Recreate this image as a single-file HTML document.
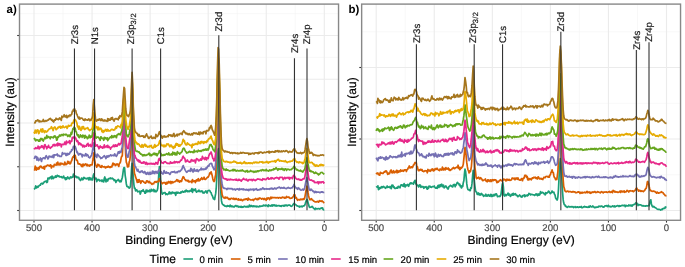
<!DOCTYPE html><html><head><meta charset="utf-8"><style>
html,body{margin:0;padding:0;background:#fff;}
body{width:685px;height:267px;overflow:hidden;}
svg{display:block;font-family:"Liberation Sans",sans-serif;filter:blur(0.3px);text-rendering:geometricPrecision;}
.gmin{stroke:#f2f2f2;stroke-width:0.55;}
.gmaj{stroke:#ebebeb;stroke-width:1.1;}
.tick{stroke:#333;stroke-width:1.1;}
.border{fill:none;stroke:#888;stroke-width:1.4;}
.tl{font-size:9.6px;fill:#4d4d4d;stroke:#4d4d4d;stroke-width:0.2px;text-anchor:middle;}
.vl{stroke:#333;stroke-width:1.1;}
.ann{font-size:9.6px;fill:#1a1a1a;stroke:#1a1a1a;stroke-width:0.2px;}
.sub{font-size:7.5px;letter-spacing:0.35px;}
.curves polyline{fill:none;stroke-width:1.7;stroke-linejoin:round;}
.key{stroke-width:1.6;}
.lt{font-size:12px;fill:#000;stroke:#000;stroke-width:0.2px;}
.ll{font-size:9.6px;fill:#000;stroke:#000;stroke-width:0.2px;}
.at{font-size:12px;fill:#000;stroke:#000;stroke-width:0.2px;}
.tag{font-size:11.5px;font-weight:bold;fill:#000;}
</style></head><body>
<svg width="685" height="267" viewBox="0 0 685 267">
<line x1="63.03" y1="4.1" x2="63.03" y2="220.3" class="gmin"/>
<line x1="121.09" y1="4.1" x2="121.09" y2="220.3" class="gmin"/>
<line x1="179.15" y1="4.1" x2="179.15" y2="220.3" class="gmin"/>
<line x1="237.21" y1="4.1" x2="237.21" y2="220.3" class="gmin"/>
<line x1="295.27" y1="4.1" x2="295.27" y2="220.3" class="gmin"/>
<line x1="19.5" y1="13.60" x2="338.6" y2="13.60" class="gmin"/>
<line x1="19.5" y1="57.40" x2="338.6" y2="57.40" class="gmin"/>
<line x1="19.5" y1="101.10" x2="338.6" y2="101.10" class="gmin"/>
<line x1="19.5" y1="144.90" x2="338.6" y2="144.90" class="gmin"/>
<line x1="19.5" y1="188.60" x2="338.6" y2="188.60" class="gmin"/>
<line x1="34.00" y1="4.1" x2="34.00" y2="220.3" class="gmaj"/>
<line x1="92.06" y1="4.1" x2="92.06" y2="220.3" class="gmaj"/>
<line x1="150.12" y1="4.1" x2="150.12" y2="220.3" class="gmaj"/>
<line x1="208.18" y1="4.1" x2="208.18" y2="220.3" class="gmaj"/>
<line x1="266.24" y1="4.1" x2="266.24" y2="220.3" class="gmaj"/>
<line x1="324.30" y1="4.1" x2="324.30" y2="220.3" class="gmaj"/>
<line x1="19.5" y1="35.50" x2="338.6" y2="35.50" class="gmaj"/>
<line x1="19.5" y1="79.25" x2="338.6" y2="79.25" class="gmaj"/>
<line x1="19.5" y1="123.00" x2="338.6" y2="123.00" class="gmaj"/>
<line x1="19.5" y1="166.75" x2="338.6" y2="166.75" class="gmaj"/>
<line x1="19.5" y1="210.50" x2="338.6" y2="210.50" class="gmaj"/>
<line x1="405.23" y1="4.1" x2="405.23" y2="220.3" class="gmin"/>
<line x1="463.29" y1="4.1" x2="463.29" y2="220.3" class="gmin"/>
<line x1="521.35" y1="4.1" x2="521.35" y2="220.3" class="gmin"/>
<line x1="579.41" y1="4.1" x2="579.41" y2="220.3" class="gmin"/>
<line x1="637.47" y1="4.1" x2="637.47" y2="220.3" class="gmin"/>
<line x1="361.6" y1="31.75" x2="680.5" y2="31.75" class="gmin"/>
<line x1="361.6" y1="103.25" x2="680.5" y2="103.25" class="gmin"/>
<line x1="361.6" y1="174.75" x2="680.5" y2="174.75" class="gmin"/>
<line x1="376.20" y1="4.1" x2="376.20" y2="220.3" class="gmaj"/>
<line x1="434.26" y1="4.1" x2="434.26" y2="220.3" class="gmaj"/>
<line x1="492.32" y1="4.1" x2="492.32" y2="220.3" class="gmaj"/>
<line x1="550.38" y1="4.1" x2="550.38" y2="220.3" class="gmaj"/>
<line x1="608.44" y1="4.1" x2="608.44" y2="220.3" class="gmaj"/>
<line x1="666.50" y1="4.1" x2="666.50" y2="220.3" class="gmaj"/>
<line x1="361.6" y1="67.50" x2="680.5" y2="67.50" class="gmaj"/>
<line x1="361.6" y1="139.00" x2="680.5" y2="139.00" class="gmaj"/>
<line x1="361.6" y1="210.50" x2="680.5" y2="210.50" class="gmaj"/>
<g class="curves">
<polyline points="34.0,189.3 34.6,188.8 35.2,187.5 35.7,185.9 36.3,188.0 36.9,187.5 37.5,186.5 38.1,187.2 38.6,186.3 39.2,185.6 39.8,185.1 40.4,185.2 41.0,183.5 41.5,183.5 42.1,183.1 42.7,184.1 43.3,183.3 43.9,182.5 44.5,181.5 45.0,181.6 45.6,181.5 46.2,181.0 46.8,182.5 47.4,182.1 47.9,178.1 48.5,178.1 49.1,178.8 49.7,177.5 50.3,177.2 50.8,176.9 51.4,178.8 52.0,176.1 52.6,176.8 53.2,178.7 53.7,177.4 54.3,177.7 54.9,177.1 55.5,176.0 56.1,177.3 56.6,176.8 57.2,175.3 57.8,175.7 58.4,176.4 59.0,176.0 59.5,176.9 60.1,177.0 60.7,176.9 61.3,176.6 61.9,177.7 62.4,177.8 63.0,177.1 63.6,176.1 64.2,178.0 64.8,177.8 65.4,179.6 65.9,177.8 66.5,179.3 67.1,178.1 67.7,176.9 68.3,177.8 68.8,178.5 69.4,178.9 70.0,177.5 70.6,176.9 71.2,177.8 71.7,177.1 72.3,177.4 72.9,177.0 73.5,174.0 74.1,175.7 74.6,177.1 75.2,176.3 75.8,176.1 76.4,177.5 77.0,176.9 77.5,177.7 78.1,177.3 78.7,177.3 79.3,179.3 79.9,179.3 80.4,180.5 81.0,179.9 81.6,178.1 82.2,178.3 82.8,179.8 83.4,179.0 83.9,177.3 84.5,177.8 85.1,178.3 85.7,178.3 86.3,178.9 86.8,178.5 87.4,178.1 88.0,178.1 88.6,179.8 89.2,177.5 89.7,179.7 90.3,179.7 90.9,178.0 91.5,179.8 92.1,179.3 92.6,179.9 93.2,175.8 93.8,173.9 94.4,176.9 95.0,178.9 95.5,178.6 96.1,178.2 96.7,181.6 97.3,180.2 97.9,179.5 98.4,179.9 99.0,179.6 99.6,180.9 100.2,180.6 100.8,180.7 101.3,180.2 101.9,181.4 102.5,180.2 103.1,181.6 103.7,181.9 104.3,178.4 104.8,177.0 105.4,179.7 106.0,181.9 106.6,179.3 107.2,179.6 107.7,181.0 108.3,179.0 108.9,178.6 109.5,178.3 110.1,178.7 110.6,177.9 111.2,178.7 111.8,178.5 112.4,178.1 113.0,179.1 113.5,179.2 114.1,180.5 114.7,179.9 115.3,180.2 115.9,182.5 116.4,181.0 117.0,180.5 117.6,180.4 118.2,179.4 118.8,180.0 119.3,181.4 119.9,181.9 120.5,180.6 121.1,181.7 121.7,179.5 122.3,177.5 122.8,174.3 123.4,169.5 124.0,167.5 124.6,168.0 125.2,175.7 125.7,178.7 126.3,183.7 126.9,186.4 127.5,186.6 128.1,186.6 128.6,187.5 129.2,188.1 129.8,187.6 130.4,186.5 131.0,179.4 131.5,169.6 132.1,163.3 132.7,168.0 133.3,177.8 133.9,184.5 134.4,188.1 135.0,188.2 135.6,190.8 136.2,190.0 136.8,189.8 137.3,191.2 137.9,191.8 138.5,191.4 139.1,191.5 139.7,191.1 140.2,194.1 140.8,192.6 141.4,190.8 142.0,190.8 142.6,191.1 143.2,189.7 143.7,191.3 144.3,191.5 144.9,193.2 145.5,193.1 146.1,190.2 146.6,191.9 147.2,190.2 147.8,191.7 148.4,191.0 149.0,191.4 149.5,190.1 150.1,191.8 150.7,191.5 151.3,189.3 151.9,190.9 152.4,190.4 153.0,190.6 153.6,189.4 154.2,191.7 154.8,190.1 155.3,191.0 155.9,191.9 156.5,191.1 157.1,190.7 157.7,188.5 158.2,183.7 158.8,174.0 159.4,166.6 160.0,169.8 160.6,180.4 161.2,189.1 161.7,192.5 162.3,194.2 162.9,193.4 163.5,193.2 164.1,192.6 164.6,192.8 165.2,192.7 165.8,194.6 166.4,193.8 167.0,194.0 167.5,194.5 168.1,194.1 168.7,193.2 169.3,191.9 169.9,193.8 170.4,193.7 171.0,192.3 171.6,193.7 172.2,192.4 172.8,192.1 173.3,193.0 173.9,192.8 174.5,193.4 175.1,192.5 175.7,195.3 176.2,193.4 176.8,192.2 177.4,193.2 178.0,192.2 178.6,192.9 179.2,192.8 179.7,193.2 180.3,193.1 180.9,192.0 181.5,192.7 182.1,191.6 182.6,191.2 183.2,191.9 183.8,192.2 184.4,191.5 185.0,190.9 185.5,191.8 186.1,190.0 186.7,190.6 187.3,191.7 187.9,190.9 188.4,191.6 189.0,191.1 189.6,191.5 190.2,190.4 190.8,190.7 191.3,191.0 191.9,188.6 192.5,192.4 193.1,189.5 193.7,189.4 194.2,190.5 194.8,189.9 195.4,189.0 196.0,191.4 196.6,192.1 197.1,191.3 197.7,191.2 198.3,191.4 198.9,190.1 199.5,191.3 200.1,191.7 200.6,191.4 201.2,190.9 201.8,191.6 202.4,191.1 203.0,192.9 203.5,192.7 204.1,193.1 204.7,192.0 205.3,191.6 205.9,190.9 206.4,192.3 207.0,193.1 207.6,191.3 208.2,190.5 208.8,190.4 209.3,190.3 209.9,190.8 210.5,192.2 211.1,192.6 211.7,194.9 212.2,195.3 212.8,197.1 213.4,198.8 214.0,198.5 214.6,199.5 215.1,196.7 215.7,193.4 216.3,187.0 216.9,175.2 217.5,159.1 218.1,149.1 218.6,148.6 219.2,158.2 219.8,170.2 220.4,184.1 221.0,194.7 221.5,200.9 222.1,203.6 222.7,204.3 223.3,204.9 223.9,205.5 224.4,205.4 225.0,206.1 225.6,206.3 226.2,206.1 226.8,206.5 227.3,205.6 227.9,206.2 228.5,205.9 229.1,206.1 229.7,206.7 230.2,205.1 230.8,206.3 231.4,205.9 232.0,206.8 232.6,206.1 233.1,206.6 233.7,206.9 234.3,206.8 234.9,206.2 235.5,205.5 236.0,205.6 236.6,206.4 237.2,206.4 237.8,206.0 238.4,207.0 239.0,206.7 239.5,206.9 240.1,206.5 240.7,207.2 241.3,206.5 241.9,207.3 242.4,206.8 243.0,207.1 243.6,207.0 244.2,206.2 244.8,206.5 245.3,206.5 245.9,207.0 246.5,206.9 247.1,206.2 247.7,206.9 248.2,206.7 248.8,206.9 249.4,205.0 250.0,205.6 250.6,206.5 251.1,205.5 251.7,205.6 252.3,206.4 252.9,206.6 253.5,205.9 254.0,206.3 254.6,206.0 255.2,206.7 255.8,206.1 256.4,206.8 257.0,206.2 257.5,206.6 258.1,206.5 258.7,206.9 259.3,206.6 259.9,205.9 260.4,206.3 261.0,206.3 261.6,206.0 262.2,206.1 262.8,206.0 263.3,205.1 263.9,205.6 264.5,205.6 265.1,205.1 265.7,205.9 266.2,205.1 266.8,205.6 267.4,205.7 268.0,206.6 268.6,204.9 269.1,205.6 269.7,205.8 270.3,205.7 270.9,206.2 271.5,205.4 272.0,204.9 272.6,206.0 273.2,205.0 273.8,205.4 274.4,205.0 274.9,205.9 275.5,205.8 276.1,205.2 276.7,206.1 277.3,205.8 277.9,205.7 278.4,205.7 279.0,205.5 279.6,206.0 280.2,206.1 280.8,205.9 281.3,206.4 281.9,205.5 282.5,205.7 283.1,205.7 283.7,206.1 284.2,205.2 284.8,206.0 285.4,205.2 286.0,205.2 286.6,205.2 287.1,205.9 287.7,205.6 288.3,205.0 288.9,205.0 289.5,205.2 290.0,205.1 290.6,206.0 291.2,206.3 291.8,206.2 292.4,205.7 292.9,204.8 293.5,204.0 294.1,203.5 294.7,204.1 295.3,204.4 295.9,204.8 296.4,205.6 297.0,205.8 297.6,205.9 298.2,206.2 298.8,206.4 299.3,207.0 299.9,206.1 300.5,206.6 301.1,206.7 301.7,206.1 302.2,206.8 302.8,206.4 303.4,205.8 304.0,205.9 304.6,205.3 305.1,204.1 305.7,202.4 306.3,200.5 306.9,199.5 307.5,200.1 308.0,202.9 308.6,204.5 309.2,206.7 309.8,207.5 310.4,207.3 310.9,207.1 311.5,206.9 312.1,206.3 312.7,207.0 313.3,207.9 313.8,208.6 314.4,208.6 315.0,209.5 315.6,208.2 316.2,208.6 316.8,209.0 317.3,208.8 317.9,208.7 318.5,208.5 319.1,208.8 319.7,209.1 320.2,208.5 320.8,208.2 321.4,207.9 322.0,208.5 322.6,207.9 323.1,209.5 323.7,209.9 324.3,209.7" stroke="#1B9E77"/>
<polyline points="34.0,169.6 34.6,169.9 35.2,166.1 35.7,167.1 36.3,170.1 36.9,167.9 37.5,168.8 38.1,169.3 38.6,167.6 39.2,168.8 39.8,166.7 40.4,166.2 41.0,166.8 41.5,166.5 42.1,168.0 42.7,167.8 43.3,168.3 43.9,166.6 44.5,169.1 45.0,166.4 45.6,166.2 46.2,166.5 46.8,165.7 47.4,165.0 47.9,165.2 48.5,165.7 49.1,165.5 49.7,166.0 50.3,164.8 50.8,165.0 51.4,168.0 52.0,166.0 52.6,166.3 53.2,166.2 53.7,166.8 54.3,164.4 54.9,165.0 55.5,165.0 56.1,165.1 56.6,163.0 57.2,164.9 57.8,162.1 58.4,164.7 59.0,164.8 59.5,164.8 60.1,163.1 60.7,164.8 61.3,163.3 61.9,163.3 62.4,163.9 63.0,164.0 63.6,164.6 64.2,164.8 64.8,162.1 65.4,163.5 65.9,164.7 66.5,164.0 67.1,163.9 67.7,161.4 68.3,163.3 68.8,161.5 69.4,163.4 70.0,163.9 70.6,163.4 71.2,161.2 71.7,160.7 72.3,158.3 72.9,156.9 73.5,157.1 74.1,155.4 74.6,155.5 75.2,155.3 75.8,158.2 76.4,160.2 77.0,160.0 77.5,161.1 78.1,163.9 78.7,163.6 79.3,164.1 79.9,163.9 80.4,164.7 81.0,165.2 81.6,166.4 82.2,164.4 82.8,166.6 83.4,164.2 83.9,164.5 84.5,165.4 85.1,164.4 85.7,163.8 86.3,164.5 86.8,165.6 87.4,164.4 88.0,165.8 88.6,165.6 89.2,165.1 89.7,166.1 90.3,164.9 90.9,164.9 91.5,164.9 92.1,164.8 92.6,161.8 93.2,158.5 93.8,152.8 94.4,158.8 95.0,161.9 95.5,164.6 96.1,165.6 96.7,167.1 97.3,165.8 97.9,164.2 98.4,165.7 99.0,165.0 99.6,165.3 100.2,167.1 100.8,167.0 101.3,167.4 101.9,165.6 102.5,166.5 103.1,166.9 103.7,166.8 104.3,166.9 104.8,166.6 105.4,167.9 106.0,167.1 106.6,167.4 107.2,166.6 107.7,167.0 108.3,166.1 108.9,167.0 109.5,167.4 110.1,166.7 110.6,167.4 111.2,166.7 111.8,166.9 112.4,164.8 113.0,163.1 113.5,164.8 114.1,164.4 114.7,163.9 115.3,165.5 115.9,165.0 116.4,164.7 117.0,163.8 117.6,164.5 118.2,165.0 118.8,166.4 119.3,163.7 119.9,163.2 120.5,161.9 121.1,158.3 121.7,156.3 122.3,156.0 122.8,145.1 123.4,135.7 124.0,125.7 124.6,131.3 125.2,143.3 125.7,154.6 126.3,162.2 126.9,163.6 127.5,166.9 128.1,166.7 128.6,166.7 129.2,161.9 129.8,160.5 130.4,155.3 131.0,143.8 131.5,124.6 132.1,114.3 132.7,124.4 133.3,148.6 133.9,165.7 134.4,173.2 135.0,174.8 135.6,177.2 136.2,178.6 136.8,180.7 137.3,182.4 137.9,179.8 138.5,182.2 139.1,179.6 139.7,181.7 140.2,180.9 140.8,183.3 141.4,181.8 142.0,180.8 142.6,181.0 143.2,181.2 143.7,182.2 144.3,182.3 144.9,182.9 145.5,183.2 146.1,182.2 146.6,180.8 147.2,180.8 147.8,181.5 148.4,182.6 149.0,181.4 149.5,181.5 150.1,183.0 150.7,182.8 151.3,183.3 151.9,184.4 152.4,183.7 153.0,183.6 153.6,183.8 154.2,182.5 154.8,181.7 155.3,181.5 155.9,182.3 156.5,182.2 157.1,181.3 157.7,181.6 158.2,181.7 158.8,181.7 159.4,178.7 160.0,180.2 160.6,180.9 161.2,182.5 161.7,182.7 162.3,183.7 162.9,183.1 163.5,182.5 164.1,182.5 164.6,182.9 165.2,182.6 165.8,184.1 166.4,183.9 167.0,182.2 167.5,183.5 168.1,182.1 168.7,181.5 169.3,182.8 169.9,182.6 170.4,181.5 171.0,183.6 171.6,181.8 172.2,181.6 172.8,182.8 173.3,182.4 173.9,182.1 174.5,181.8 175.1,181.6 175.7,181.1 176.2,180.9 176.8,179.6 177.4,180.0 178.0,181.4 178.6,180.5 179.2,181.7 179.7,182.2 180.3,180.9 180.9,180.9 181.5,181.5 182.1,179.2 182.6,178.1 183.2,176.7 183.8,177.1 184.4,178.6 185.0,179.6 185.5,179.8 186.1,180.7 186.7,180.6 187.3,180.3 187.9,181.3 188.4,180.4 189.0,182.0 189.6,181.5 190.2,181.6 190.8,181.5 191.3,181.2 191.9,182.7 192.5,179.5 193.1,180.8 193.7,181.5 194.2,181.2 194.8,180.8 195.4,182.6 196.0,180.4 196.6,179.9 197.1,181.0 197.7,179.5 198.3,178.7 198.9,181.0 199.5,180.6 200.1,180.2 200.6,178.9 201.2,178.9 201.8,177.7 202.4,179.5 203.0,178.8 203.5,178.9 204.1,177.2 204.7,179.2 205.3,179.5 205.9,179.0 206.4,178.5 207.0,177.8 207.6,177.2 208.2,177.1 208.8,175.8 209.3,174.5 209.9,172.8 210.5,173.5 211.1,171.8 211.7,174.1 212.2,175.6 212.8,178.7 213.4,180.8 214.0,181.5 214.6,180.7 215.1,177.3 215.7,174.6 216.3,161.3 216.9,138.9 217.5,111.0 218.1,91.5 218.6,93.4 219.2,108.2 219.8,131.8 220.4,157.0 221.0,178.0 221.5,189.4 222.1,194.5 222.7,196.3 223.3,197.4 223.9,197.9 224.4,197.3 225.0,198.3 225.6,197.1 226.2,197.6 226.8,197.9 227.3,197.4 227.9,198.1 228.5,199.2 229.1,199.3 229.7,198.7 230.2,199.4 230.8,198.6 231.4,198.3 232.0,198.6 232.6,198.6 233.1,199.0 233.7,198.2 234.3,199.4 234.9,198.8 235.5,199.3 236.0,198.4 236.6,199.1 237.2,199.5 237.8,199.8 238.4,198.8 239.0,200.0 239.5,199.7 240.1,199.4 240.7,200.1 241.3,199.5 241.9,200.0 242.4,200.7 243.0,200.3 243.6,199.6 244.2,199.4 244.8,199.6 245.3,199.4 245.9,198.8 246.5,198.9 247.1,199.5 247.7,200.2 248.2,198.1 248.8,199.5 249.4,199.1 250.0,199.6 250.6,199.9 251.1,200.0 251.7,199.9 252.3,199.7 252.9,199.4 253.5,200.5 254.0,199.5 254.6,199.1 255.2,199.0 255.8,198.5 256.4,199.2 257.0,199.7 257.5,199.6 258.1,198.3 258.7,199.3 259.3,198.4 259.9,197.9 260.4,198.2 261.0,198.5 261.6,199.2 262.2,198.8 262.8,198.4 263.3,198.8 263.9,199.6 264.5,198.5 265.1,199.1 265.7,199.1 266.2,200.3 266.8,198.1 267.4,199.0 268.0,197.8 268.6,198.1 269.1,198.3 269.7,199.6 270.3,197.8 270.9,197.2 271.5,198.4 272.0,197.4 272.6,197.6 273.2,197.7 273.8,197.7 274.4,197.5 274.9,197.6 275.5,197.7 276.1,198.0 276.7,197.6 277.3,197.6 277.9,197.6 278.4,198.2 279.0,197.7 279.6,197.7 280.2,197.6 280.8,198.1 281.3,197.5 281.9,197.8 282.5,197.1 283.1,197.3 283.7,197.7 284.2,197.3 284.8,198.2 285.4,197.4 286.0,197.9 286.6,196.5 287.1,196.9 287.7,197.3 288.3,197.5 288.9,197.0 289.5,197.9 290.0,198.3 290.6,198.3 291.2,198.0 291.8,198.1 292.4,197.4 292.9,197.1 293.5,196.2 294.1,194.5 294.7,194.5 295.3,196.6 295.9,198.2 296.4,197.7 297.0,199.4 297.6,200.3 298.2,199.6 298.8,199.5 299.3,199.6 299.9,200.0 300.5,199.1 301.1,199.1 301.7,199.6 302.2,199.1 302.8,199.5 303.4,198.6 304.0,199.4 304.6,198.4 305.1,195.8 305.7,192.5 306.3,189.2 306.9,186.1 307.5,188.2 308.0,192.2 308.6,196.0 309.2,198.0 309.8,199.6 310.4,199.6 310.9,199.0 311.5,198.7 312.1,200.0 312.7,200.1 313.3,200.7 313.8,201.2 314.4,201.3 315.0,201.8 315.6,201.9 316.2,201.7 316.8,201.8 317.3,201.6 317.9,201.3 318.5,202.2 319.1,201.2 319.7,200.7 320.2,201.2 320.8,201.1 321.4,201.4 322.0,200.8 322.6,201.6 323.1,201.8 323.7,202.5 324.3,203.1" stroke="#D95F02"/>
<polyline points="34.0,158.9 34.6,158.0 35.2,156.3 35.7,156.6 36.3,156.7 36.9,160.1 37.5,157.3 38.1,158.8 38.6,160.6 39.2,159.7 39.8,159.7 40.4,158.0 41.0,159.3 41.5,161.5 42.1,158.6 42.7,158.7 43.3,157.8 43.9,157.9 44.5,158.0 45.0,158.8 45.6,156.6 46.2,155.7 46.8,156.8 47.4,157.4 47.9,158.9 48.5,158.1 49.1,156.1 49.7,156.4 50.3,156.9 50.8,156.6 51.4,156.4 52.0,157.4 52.6,156.5 53.2,155.1 53.7,157.7 54.3,154.8 54.9,155.2 55.5,155.0 56.1,154.8 56.6,154.9 57.2,154.0 57.8,155.9 58.4,155.4 59.0,155.3 59.5,156.3 60.1,156.3 60.7,156.3 61.3,156.4 61.9,154.7 62.4,152.6 63.0,154.0 63.6,153.6 64.2,153.6 64.8,153.4 65.4,153.6 65.9,155.3 66.5,155.4 67.1,153.4 67.7,154.9 68.3,154.2 68.8,153.6 69.4,154.0 70.0,152.6 70.6,151.5 71.2,151.6 71.7,149.5 72.3,150.0 72.9,148.8 73.5,146.3 74.1,146.5 74.6,146.3 75.2,146.4 75.8,148.2 76.4,150.6 77.0,152.6 77.5,152.2 78.1,154.0 78.7,155.0 79.3,154.1 79.9,153.5 80.4,153.8 81.0,154.5 81.6,154.1 82.2,156.9 82.8,154.6 83.4,155.5 83.9,155.5 84.5,155.9 85.1,154.8 85.7,153.7 86.3,156.0 86.8,154.4 87.4,154.7 88.0,155.3 88.6,157.2 89.2,157.4 89.7,157.9 90.3,157.2 90.9,156.1 91.5,155.4 92.1,153.3 92.6,150.1 93.2,147.1 93.8,142.8 94.4,150.0 95.0,154.3 95.5,156.3 96.1,155.3 96.7,157.5 97.3,154.0 97.9,154.7 98.4,155.6 99.0,155.9 99.6,157.0 100.2,157.1 100.8,158.5 101.3,157.8 101.9,158.1 102.5,157.5 103.1,156.9 103.7,156.3 104.3,155.6 104.8,156.5 105.4,157.3 106.0,158.5 106.6,156.1 107.2,156.0 107.7,157.1 108.3,155.7 108.9,156.6 109.5,155.7 110.1,155.5 110.6,154.8 111.2,155.9 111.8,155.4 112.4,155.5 113.0,155.2 113.5,155.7 114.1,155.6 114.7,153.9 115.3,155.2 115.9,155.8 116.4,156.3 117.0,155.4 117.6,153.9 118.2,151.9 118.8,151.9 119.3,153.1 119.9,151.3 120.5,152.4 121.1,152.1 121.7,149.1 122.3,147.2 122.8,139.1 123.4,129.1 124.0,118.6 124.6,122.4 125.2,136.2 125.7,145.6 126.3,152.4 126.9,155.9 127.5,157.2 128.1,157.2 128.6,154.5 129.2,151.4 129.8,150.0 130.4,144.7 131.0,134.0 131.5,118.3 132.1,104.5 132.7,115.7 133.3,137.9 133.9,154.2 134.4,162.9 135.0,166.4 135.6,166.8 136.2,168.3 136.8,169.6 137.3,171.0 137.9,169.3 138.5,171.3 139.1,171.8 139.7,172.4 140.2,172.3 140.8,171.3 141.4,171.6 142.0,170.8 142.6,172.2 143.2,172.4 143.7,172.8 144.3,171.7 144.9,171.7 145.5,173.8 146.1,173.0 146.6,174.3 147.2,173.6 147.8,172.3 148.4,174.1 149.0,174.4 149.5,173.2 150.1,172.2 150.7,174.2 151.3,173.6 151.9,173.5 152.4,171.2 153.0,173.5 153.6,171.3 154.2,172.5 154.8,173.7 155.3,171.7 155.9,171.4 156.5,172.1 157.1,173.3 157.7,173.0 158.2,170.9 158.8,171.0 159.4,169.5 160.0,169.8 160.6,171.5 161.2,171.8 161.7,173.2 162.3,173.2 162.9,174.1 163.5,172.6 164.1,170.5 164.6,171.8 165.2,173.2 165.8,173.1 166.4,171.9 167.0,173.2 167.5,172.8 168.1,172.8 168.7,172.9 169.3,173.8 169.9,174.4 170.4,173.8 171.0,172.2 171.6,172.0 172.2,171.8 172.8,172.2 173.3,171.9 173.9,171.9 174.5,171.4 175.1,172.7 175.7,172.6 176.2,172.7 176.8,172.0 177.4,172.5 178.0,171.5 178.6,171.2 179.2,171.1 179.7,171.7 180.3,171.2 180.9,170.1 181.5,170.0 182.1,168.7 182.6,166.9 183.2,165.6 183.8,167.1 184.4,168.3 185.0,169.6 185.5,170.6 186.1,171.6 186.7,172.3 187.3,171.8 187.9,171.1 188.4,170.6 189.0,170.8 189.6,170.6 190.2,171.3 190.8,168.4 191.3,170.6 191.9,169.2 192.5,170.9 193.1,172.0 193.7,170.2 194.2,168.8 194.8,171.0 195.4,171.0 196.0,170.3 196.6,171.0 197.1,169.5 197.7,171.0 198.3,171.5 198.9,170.6 199.5,169.8 200.1,169.8 200.6,169.3 201.2,168.1 201.8,169.8 202.4,169.3 203.0,168.8 203.5,169.6 204.1,169.4 204.7,169.3 205.3,168.4 205.9,169.3 206.4,167.6 207.0,168.0 207.6,166.4 208.2,165.7 208.8,166.2 209.3,164.8 209.9,163.9 210.5,163.5 211.1,163.4 211.7,163.5 212.2,165.6 212.8,166.8 213.4,168.1 214.0,169.7 214.6,169.7 215.1,167.9 215.7,162.9 216.3,151.1 216.9,130.7 217.5,101.4 218.1,83.1 218.6,83.1 219.2,99.0 219.8,121.7 220.4,148.6 221.0,169.1 221.5,179.9 222.1,183.9 222.7,186.9 223.3,187.5 223.9,188.3 224.4,188.2 225.0,188.4 225.6,188.5 226.2,188.7 226.8,189.6 227.3,188.5 227.9,188.8 228.5,188.4 229.1,188.7 229.7,188.7 230.2,188.8 230.8,188.6 231.4,188.8 232.0,188.6 232.6,189.4 233.1,189.6 233.7,189.3 234.3,189.2 234.9,189.2 235.5,190.1 236.0,189.3 236.6,189.2 237.2,188.9 237.8,189.1 238.4,189.1 239.0,190.0 239.5,188.6 240.1,189.4 240.7,189.3 241.3,189.3 241.9,188.9 242.4,189.0 243.0,189.9 243.6,189.0 244.2,189.6 244.8,189.6 245.3,189.8 245.9,190.1 246.5,189.4 247.1,189.7 247.7,190.2 248.2,189.4 248.8,190.6 249.4,189.5 250.0,189.7 250.6,189.2 251.1,189.9 251.7,189.4 252.3,189.5 252.9,189.2 253.5,190.4 254.0,189.2 254.6,189.9 255.2,189.4 255.8,189.2 256.4,188.7 257.0,190.0 257.5,190.2 258.1,189.9 258.7,189.9 259.3,189.6 259.9,189.8 260.4,189.0 261.0,189.4 261.6,189.3 262.2,188.5 262.8,187.9 263.3,188.8 263.9,188.7 264.5,189.3 265.1,189.0 265.7,189.0 266.2,188.7 266.8,189.2 267.4,189.1 268.0,188.8 268.6,189.0 269.1,189.3 269.7,188.8 270.3,188.4 270.9,189.0 271.5,188.3 272.0,188.1 272.6,189.1 273.2,188.6 273.8,189.0 274.4,188.4 274.9,188.0 275.5,188.6 276.1,189.0 276.7,188.3 277.3,187.8 277.9,187.8 278.4,187.5 279.0,187.2 279.6,187.2 280.2,188.0 280.8,188.4 281.3,187.6 281.9,187.9 282.5,187.9 283.1,188.2 283.7,187.4 284.2,187.6 284.8,188.2 285.4,188.4 286.0,188.5 286.6,188.7 287.1,187.8 287.7,188.0 288.3,187.5 288.9,188.0 289.5,188.1 290.0,188.2 290.6,188.3 291.2,187.9 291.8,188.0 292.4,187.8 292.9,186.3 293.5,186.4 294.1,184.3 294.7,185.8 295.3,187.2 295.9,187.7 296.4,188.5 297.0,188.4 297.6,189.3 298.2,187.7 298.8,188.7 299.3,188.4 299.9,189.4 300.5,190.0 301.1,190.1 301.7,190.0 302.2,189.7 302.8,189.2 303.4,190.1 304.0,189.6 304.6,188.0 305.1,185.6 305.7,182.4 306.3,179.3 306.9,177.6 307.5,179.8 308.0,182.8 308.6,186.6 309.2,189.7 309.8,190.1 310.4,190.3 310.9,189.1 311.5,189.5 312.1,190.2 312.7,191.0 313.3,191.5 313.8,191.2 314.4,192.7 315.0,192.2 315.6,191.5 316.2,192.5 316.8,191.9 317.3,192.2 317.9,192.1 318.5,192.1 319.1,192.2 319.7,192.7 320.2,192.6 320.8,192.1 321.4,191.9 322.0,192.1 322.6,191.9 323.1,192.4 323.7,192.5 324.3,192.4" stroke="#7570B3"/>
<polyline points="34.0,149.4 34.6,148.5 35.2,148.6 35.7,147.6 36.3,148.5 36.9,148.3 37.5,148.4 38.1,146.2 38.6,146.7 39.2,149.0 39.8,147.2 40.4,147.7 41.0,147.3 41.5,145.8 42.1,145.9 42.7,147.4 43.3,146.7 43.9,148.9 44.5,145.1 45.0,144.6 45.6,146.6 46.2,146.5 46.8,148.8 47.4,146.8 47.9,147.4 48.5,145.4 49.1,147.2 49.7,147.5 50.3,148.4 50.8,147.4 51.4,147.3 52.0,146.5 52.6,146.4 53.2,144.6 53.7,145.2 54.3,144.4 54.9,145.9 55.5,145.1 56.1,144.6 56.6,144.1 57.2,145.8 57.8,143.2 58.4,143.5 59.0,145.4 59.5,143.7 60.1,144.0 60.7,144.1 61.3,146.9 61.9,144.6 62.4,144.4 63.0,144.3 63.6,144.6 64.2,144.4 64.8,142.1 65.4,143.4 65.9,144.5 66.5,141.0 67.1,142.8 67.7,142.6 68.3,142.1 68.8,142.3 69.4,140.7 70.0,143.7 70.6,141.6 71.2,140.8 71.7,141.4 72.3,137.3 72.9,138.2 73.5,137.7 74.1,136.8 74.6,136.4 75.2,138.3 75.8,138.2 76.4,140.6 77.0,141.7 77.5,140.6 78.1,141.8 78.7,144.6 79.3,142.9 79.9,143.7 80.4,143.4 81.0,144.9 81.6,144.5 82.2,145.5 82.8,146.8 83.4,145.4 83.9,145.3 84.5,146.9 85.1,146.2 85.7,146.1 86.3,146.2 86.8,144.4 87.4,144.5 88.0,143.3 88.6,146.2 89.2,145.4 89.7,145.4 90.3,144.4 90.9,146.4 91.5,146.6 92.1,145.5 92.6,141.3 93.2,136.4 93.8,132.9 94.4,136.4 95.0,143.1 95.5,146.2 96.1,145.2 96.7,145.5 97.3,144.9 97.9,146.7 98.4,146.9 99.0,148.8 99.6,146.7 100.2,146.0 100.8,147.3 101.3,146.9 101.9,147.4 102.5,148.2 103.1,146.7 103.7,147.5 104.3,144.9 104.8,147.6 105.4,146.8 106.0,146.5 106.6,146.0 107.2,147.3 107.7,145.4 108.3,147.4 108.9,146.5 109.5,147.5 110.1,147.8 110.6,149.1 111.2,147.3 111.8,147.1 112.4,146.6 113.0,146.0 113.5,145.1 114.1,146.7 114.7,146.3 115.3,144.8 115.9,146.3 116.4,145.2 117.0,146.3 117.6,145.2 118.2,144.3 118.8,143.4 119.3,144.8 119.9,144.7 120.5,143.6 121.1,143.4 121.7,139.6 122.3,136.5 122.8,128.5 123.4,117.7 124.0,110.2 124.6,113.9 125.2,127.6 125.7,136.8 126.3,142.4 126.9,146.8 127.5,147.9 128.1,148.7 128.6,146.7 129.2,142.6 129.8,138.5 130.4,136.5 131.0,125.2 131.5,107.3 132.1,93.8 132.7,105.7 133.3,128.8 133.9,145.5 134.4,154.9 135.0,155.4 135.6,157.9 136.2,158.2 136.8,159.1 137.3,160.3 137.9,160.9 138.5,160.0 139.1,161.9 139.7,160.6 140.2,162.3 140.8,162.1 141.4,163.2 142.0,163.1 142.6,162.5 143.2,163.1 143.7,161.9 144.3,162.1 144.9,162.8 145.5,164.0 146.1,162.4 146.6,162.5 147.2,164.4 147.8,163.7 148.4,164.0 149.0,163.4 149.5,164.0 150.1,164.0 150.7,163.3 151.3,163.8 151.9,163.4 152.4,164.0 153.0,164.1 153.6,163.5 154.2,163.9 154.8,164.4 155.3,163.4 155.9,162.5 156.5,163.5 157.1,162.8 157.7,164.2 158.2,161.8 158.8,159.0 159.4,158.4 160.0,160.2 160.6,160.2 161.2,162.0 161.7,162.8 162.3,162.9 162.9,162.8 163.5,163.3 164.1,161.8 164.6,161.9 165.2,161.7 165.8,162.2 166.4,162.6 167.0,163.3 167.5,163.3 168.1,163.2 168.7,163.5 169.3,163.6 169.9,163.5 170.4,161.8 171.0,162.8 171.6,163.2 172.2,162.6 172.8,163.0 173.3,162.5 173.9,162.9 174.5,161.5 175.1,162.8 175.7,162.0 176.2,161.7 176.8,161.9 177.4,162.6 178.0,162.4 178.6,161.9 179.2,162.5 179.7,161.8 180.3,161.1 180.9,160.0 181.5,160.2 182.1,158.7 182.6,157.2 183.2,156.2 183.8,157.8 184.4,157.8 185.0,159.1 185.5,161.8 186.1,161.6 186.7,161.2 187.3,160.0 187.9,161.0 188.4,161.5 189.0,161.9 189.6,162.1 190.2,161.4 190.8,161.8 191.3,159.7 191.9,160.3 192.5,160.2 193.1,161.2 193.7,160.4 194.2,160.6 194.8,160.1 195.4,162.8 196.0,160.2 196.6,158.6 197.1,159.1 197.7,159.1 198.3,160.4 198.9,160.9 199.5,160.4 200.1,159.6 200.6,158.9 201.2,160.2 201.8,159.4 202.4,156.3 203.0,158.6 203.5,158.0 204.1,158.2 204.7,159.5 205.3,157.4 205.9,157.5 206.4,159.9 207.0,157.9 207.6,158.0 208.2,158.5 208.8,155.9 209.3,154.7 209.9,153.4 210.5,153.7 211.1,152.0 211.7,154.0 212.2,156.0 212.8,158.3 213.4,158.9 214.0,160.9 214.6,159.8 215.1,157.6 215.7,153.3 216.3,140.3 216.9,121.3 217.5,92.4 218.1,74.1 218.6,75.4 219.2,88.8 219.8,112.7 220.4,140.1 221.0,158.7 221.5,169.7 222.1,174.6 222.7,176.4 223.3,178.3 223.9,178.5 224.4,178.6 225.0,179.0 225.6,178.6 226.2,179.6 226.8,179.0 227.3,180.2 227.9,179.4 228.5,179.4 229.1,180.0 229.7,179.7 230.2,179.1 230.8,179.7 231.4,179.5 232.0,179.6 232.6,179.8 233.1,179.8 233.7,180.0 234.3,179.8 234.9,179.6 235.5,179.4 236.0,180.2 236.6,179.2 237.2,180.3 237.8,180.3 238.4,180.3 239.0,179.2 239.5,180.2 240.1,180.1 240.7,180.2 241.3,181.2 241.9,179.9 242.4,179.9 243.0,179.0 243.6,178.4 244.2,179.4 244.8,179.5 245.3,179.7 245.9,179.8 246.5,179.1 247.1,180.4 247.7,180.9 248.2,180.9 248.8,179.6 249.4,179.6 250.0,179.8 250.6,179.8 251.1,179.4 251.7,179.8 252.3,180.7 252.9,179.6 253.5,179.3 254.0,180.0 254.6,180.0 255.2,180.5 255.8,180.0 256.4,180.0 257.0,179.3 257.5,178.9 258.1,179.2 258.7,179.0 259.3,179.2 259.9,179.7 260.4,179.4 261.0,179.8 261.6,179.9 262.2,180.3 262.8,178.7 263.3,179.1 263.9,179.4 264.5,179.1 265.1,179.4 265.7,179.6 266.2,179.4 266.8,178.4 267.4,178.5 268.0,177.7 268.6,179.1 269.1,178.8 269.7,179.1 270.3,178.5 270.9,178.0 271.5,178.9 272.0,177.7 272.6,178.2 273.2,178.3 273.8,178.8 274.4,178.9 274.9,178.1 275.5,177.8 276.1,177.8 276.7,177.3 277.3,177.9 277.9,177.8 278.4,178.5 279.0,179.2 279.6,177.6 280.2,177.3 280.8,177.4 281.3,177.4 281.9,177.5 282.5,177.4 283.1,179.6 283.7,178.7 284.2,178.1 284.8,177.4 285.4,178.7 286.0,178.1 286.6,177.9 287.1,177.5 287.7,178.0 288.3,178.1 288.9,177.3 289.5,179.3 290.0,178.2 290.6,177.8 291.2,177.6 291.8,177.7 292.4,178.7 292.9,177.2 293.5,175.5 294.1,175.8 294.7,176.2 295.3,177.5 295.9,178.4 296.4,178.9 297.0,179.3 297.6,179.3 298.2,178.9 298.8,179.3 299.3,179.9 299.9,179.4 300.5,180.1 301.1,179.9 301.7,180.1 302.2,179.5 302.8,179.0 303.4,178.7 304.0,178.8 304.6,178.2 305.1,175.3 305.7,171.5 306.3,167.8 306.9,165.2 307.5,168.1 308.0,173.3 308.6,177.2 309.2,179.7 309.8,180.0 310.4,180.2 310.9,179.9 311.5,180.1 312.1,180.5 312.7,181.0 313.3,181.2 313.8,180.8 314.4,182.5 315.0,182.6 315.6,182.4 316.2,182.5 316.8,182.6 317.3,182.1 317.9,181.9 318.5,183.8 319.1,181.9 319.7,182.3 320.2,182.7 320.8,182.0 321.4,182.6 322.0,181.8 322.6,181.9 323.1,181.7 323.7,183.0 324.3,182.0" stroke="#E7298A"/>
<polyline points="34.0,139.5 34.6,138.4 35.2,140.1 35.7,140.9 36.3,140.1 36.9,139.6 37.5,140.0 38.1,140.4 38.6,141.2 39.2,139.8 39.8,141.2 40.4,139.0 41.0,138.4 41.5,139.5 42.1,138.7 42.7,140.2 43.3,141.1 43.9,139.2 44.5,138.5 45.0,137.5 45.6,138.7 46.2,137.9 46.8,135.4 47.4,137.9 47.9,136.9 48.5,136.6 49.1,137.6 49.7,137.1 50.3,138.8 50.8,136.9 51.4,137.1 52.0,137.2 52.6,137.4 53.2,137.9 53.7,136.5 54.3,136.8 54.9,135.8 55.5,137.3 56.1,137.1 56.6,140.2 57.2,139.8 57.8,136.9 58.4,137.1 59.0,136.4 59.5,135.1 60.1,135.2 60.7,136.0 61.3,134.9 61.9,134.5 62.4,134.6 63.0,135.7 63.6,134.2 64.2,134.6 64.8,134.5 65.4,134.9 65.9,134.2 66.5,134.5 67.1,135.1 67.7,136.4 68.3,136.1 68.8,135.1 69.4,135.0 70.0,136.6 70.6,135.1 71.2,132.3 71.7,134.1 72.3,131.5 72.9,128.6 73.5,129.1 74.1,127.1 74.6,128.4 75.2,128.2 75.8,131.4 76.4,132.1 77.0,134.6 77.5,135.6 78.1,134.8 78.7,137.1 79.3,137.6 79.9,137.0 80.4,134.8 81.0,136.3 81.6,135.9 82.2,137.4 82.8,135.1 83.4,136.4 83.9,135.6 84.5,138.1 85.1,135.4 85.7,137.5 86.3,136.6 86.8,136.7 87.4,138.7 88.0,137.9 88.6,137.7 89.2,135.2 89.7,136.0 90.3,137.8 90.9,136.1 91.5,137.1 92.1,136.5 92.6,132.6 93.2,126.7 93.8,121.8 94.4,126.6 95.0,133.5 95.5,136.6 96.1,138.2 96.7,137.4 97.3,137.0 97.9,137.1 98.4,137.1 99.0,138.1 99.6,139.1 100.2,140.3 100.8,136.9 101.3,137.1 101.9,138.4 102.5,138.4 103.1,138.4 103.7,140.3 104.3,137.3 104.8,138.9 105.4,137.7 106.0,138.3 106.6,139.1 107.2,137.8 107.7,140.7 108.3,139.3 108.9,138.8 109.5,137.5 110.1,137.5 110.6,136.8 111.2,137.9 111.8,135.5 112.4,137.0 113.0,137.5 113.5,136.1 114.1,136.9 114.7,135.7 115.3,136.7 115.9,135.8 116.4,137.7 117.0,135.0 117.6,134.4 118.2,134.7 118.8,133.6 119.3,134.0 119.9,134.6 120.5,134.8 121.1,132.4 121.7,131.4 122.3,128.0 122.8,122.1 123.4,111.6 124.0,103.1 124.6,107.5 125.2,120.0 125.7,126.5 126.3,134.2 126.9,136.0 127.5,135.3 128.1,136.9 128.6,134.8 129.2,134.3 129.8,130.4 130.4,128.4 131.0,116.4 131.5,100.6 132.1,85.7 132.7,98.2 133.3,119.5 133.9,136.2 134.4,143.7 135.0,147.4 135.6,150.7 136.2,151.2 136.8,151.4 137.3,151.2 137.9,151.8 138.5,152.1 139.1,151.8 139.7,153.2 140.2,153.2 140.8,154.2 141.4,154.1 142.0,154.7 142.6,155.8 143.2,154.8 143.7,155.5 144.3,154.7 144.9,155.5 145.5,155.0 146.1,155.3 146.6,155.2 147.2,154.4 147.8,154.7 148.4,154.2 149.0,153.1 149.5,154.4 150.1,155.5 150.7,154.2 151.3,155.7 151.9,155.3 152.4,154.5 153.0,154.3 153.6,153.3 154.2,154.6 154.8,153.2 155.3,153.6 155.9,154.9 156.5,153.7 157.1,155.8 157.7,154.1 158.2,153.7 158.8,152.6 159.4,150.7 160.0,151.5 160.6,153.4 161.2,154.1 161.7,155.7 162.3,155.5 162.9,154.9 163.5,155.4 164.1,154.4 164.6,155.2 165.2,154.9 165.8,154.4 166.4,153.7 167.0,153.8 167.5,154.4 168.1,154.7 168.7,152.9 169.3,154.2 169.9,155.1 170.4,154.8 171.0,154.2 171.6,153.8 172.2,155.0 172.8,152.2 173.3,153.1 173.9,154.2 174.5,152.7 175.1,154.9 175.7,153.0 176.2,154.3 176.8,154.9 177.4,151.6 178.0,152.5 178.6,153.2 179.2,153.1 179.7,154.1 180.3,153.0 180.9,152.8 181.5,152.2 182.1,151.4 182.6,149.7 183.2,148.5 183.8,148.1 184.4,148.8 185.0,150.4 185.5,151.2 186.1,151.9 186.7,153.0 187.3,152.7 187.9,152.7 188.4,152.2 189.0,151.7 189.6,151.3 190.2,152.3 190.8,151.8 191.3,151.9 191.9,151.7 192.5,152.3 193.1,152.2 193.7,152.5 194.2,150.2 194.8,151.8 195.4,151.6 196.0,151.2 196.6,151.0 197.1,151.9 197.7,151.8 198.3,150.2 198.9,151.0 199.5,150.8 200.1,151.3 200.6,150.7 201.2,151.3 201.8,150.4 202.4,150.1 203.0,150.7 203.5,149.6 204.1,149.6 204.7,150.2 205.3,149.2 205.9,148.9 206.4,150.1 207.0,149.7 207.6,148.9 208.2,150.0 208.8,148.6 209.3,146.8 209.9,145.0 210.5,144.5 211.1,144.5 211.7,146.6 212.2,146.3 212.8,148.9 213.4,150.1 214.0,150.4 214.6,151.7 215.1,149.6 215.7,146.1 216.3,133.7 216.9,111.3 217.5,83.7 218.1,64.9 218.6,66.4 219.2,81.4 219.8,104.0 220.4,131.2 221.0,150.3 221.5,160.5 222.1,165.6 222.7,168.3 223.3,168.6 223.9,169.9 224.4,169.4 225.0,169.5 225.6,170.3 226.2,169.0 226.8,170.2 227.3,169.9 227.9,170.0 228.5,170.5 229.1,170.6 229.7,171.0 230.2,170.8 230.8,170.6 231.4,170.5 232.0,170.2 232.6,170.7 233.1,169.4 233.7,170.7 234.3,170.1 234.9,169.5 235.5,170.8 236.0,170.6 236.6,171.0 237.2,170.3 237.8,170.6 238.4,170.9 239.0,170.8 239.5,170.9 240.1,170.4 240.7,170.9 241.3,170.3 241.9,170.8 242.4,169.9 243.0,170.9 243.6,170.9 244.2,171.2 244.8,171.5 245.3,171.9 245.9,171.0 246.5,171.3 247.1,170.4 247.7,172.0 248.2,171.7 248.8,171.4 249.4,171.7 250.0,171.4 250.6,170.5 251.1,171.0 251.7,171.4 252.3,171.6 252.9,171.4 253.5,171.3 254.0,172.3 254.6,171.5 255.2,171.9 255.8,171.2 256.4,171.9 257.0,171.5 257.5,170.8 258.1,171.5 258.7,170.8 259.3,171.0 259.9,170.8 260.4,170.2 261.0,170.4 261.6,170.8 262.2,169.7 262.8,169.8 263.3,169.9 263.9,170.7 264.5,170.2 265.1,170.5 265.7,170.6 266.2,169.4 266.8,170.7 267.4,170.5 268.0,170.6 268.6,171.1 269.1,170.5 269.7,169.9 270.3,170.5 270.9,170.1 271.5,170.4 272.0,169.8 272.6,169.6 273.2,169.9 273.8,168.7 274.4,169.4 274.9,168.9 275.5,168.8 276.1,167.7 276.7,168.6 277.3,169.3 277.9,170.3 278.4,168.9 279.0,168.8 279.6,169.2 280.2,169.4 280.8,168.9 281.3,169.2 281.9,168.3 282.5,169.7 283.1,168.9 283.7,169.3 284.2,170.4 284.8,169.0 285.4,168.8 286.0,169.1 286.6,170.4 287.1,169.5 287.7,169.1 288.3,169.3 288.9,169.4 289.5,169.9 290.0,169.7 290.6,169.5 291.2,169.6 291.8,169.0 292.4,168.5 292.9,168.3 293.5,167.1 294.1,166.2 294.7,166.8 295.3,168.3 295.9,168.7 296.4,169.8 297.0,169.9 297.6,169.6 298.2,170.7 298.8,170.5 299.3,170.9 299.9,171.0 300.5,170.2 301.1,171.3 301.7,171.0 302.2,171.6 302.8,172.0 303.4,170.8 304.0,170.2 304.6,169.5 305.1,167.6 305.7,164.0 306.3,158.5 306.9,157.7 307.5,158.9 308.0,163.7 308.6,167.0 309.2,169.7 309.8,171.2 310.4,170.5 310.9,171.7 311.5,171.1 312.1,171.7 312.7,171.9 313.3,171.9 313.8,172.8 314.4,173.4 315.0,173.0 315.6,172.2 316.2,173.2 316.8,173.2 317.3,173.8 317.9,173.7 318.5,174.9 319.1,174.3 319.7,174.1 320.2,173.3 320.8,172.6 321.4,172.5 322.0,172.4 322.6,172.8 323.1,173.3 323.7,173.8 324.3,174.4" stroke="#66A61E"/>
<polyline points="34.0,131.6 34.6,133.2 35.2,130.2 35.7,131.1 36.3,132.9 36.9,130.3 37.5,129.9 38.1,130.3 38.6,133.7 39.2,132.9 39.8,131.1 40.4,130.9 41.0,129.0 41.5,130.9 42.1,132.2 42.7,128.9 43.3,131.5 43.9,131.3 44.5,132.6 45.0,130.7 45.6,131.1 46.2,132.1 46.8,131.4 47.4,131.5 47.9,130.3 48.5,129.9 49.1,128.9 49.7,128.9 50.3,128.5 50.8,128.2 51.4,126.7 52.0,127.7 52.6,129.3 53.2,130.5 53.7,128.1 54.3,127.4 54.9,127.0 55.5,128.1 56.1,129.7 56.6,129.1 57.2,128.8 57.8,127.5 58.4,127.8 59.0,126.7 59.5,127.1 60.1,126.3 60.7,128.2 61.3,127.2 61.9,126.6 62.4,127.6 63.0,125.9 63.6,126.8 64.2,127.6 64.8,127.2 65.4,126.9 65.9,126.4 66.5,126.4 67.1,128.4 67.7,127.2 68.3,125.4 68.8,125.4 69.4,126.2 70.0,125.6 70.6,125.6 71.2,125.7 71.7,123.5 72.3,122.8 72.9,123.2 73.5,121.4 74.1,119.8 74.6,119.2 75.2,119.8 75.8,120.6 76.4,121.8 77.0,123.6 77.5,127.0 78.1,126.0 78.7,129.1 79.3,126.4 79.9,127.4 80.4,129.7 81.0,130.3 81.6,129.0 82.2,126.5 82.8,128.6 83.4,126.6 83.9,127.9 84.5,129.3 85.1,129.3 85.7,128.4 86.3,128.3 86.8,128.5 87.4,127.6 88.0,127.9 88.6,129.7 89.2,129.5 89.7,130.6 90.3,129.9 90.9,129.5 91.5,129.3 92.1,128.5 92.6,126.7 93.2,119.0 93.8,112.9 94.4,118.5 95.0,124.6 95.5,127.8 96.1,127.1 96.7,126.6 97.3,128.7 97.9,129.8 98.4,127.2 99.0,129.7 99.6,129.3 100.2,128.2 100.8,128.4 101.3,129.0 101.9,131.6 102.5,130.5 103.1,132.4 103.7,130.5 104.3,131.5 104.8,130.8 105.4,129.5 106.0,129.8 106.6,131.0 107.2,129.3 107.7,130.9 108.3,130.0 108.9,131.0 109.5,130.9 110.1,130.9 110.6,130.4 111.2,129.6 111.8,129.3 112.4,129.4 113.0,129.9 113.5,130.1 114.1,129.7 114.7,129.8 115.3,128.3 115.9,126.8 116.4,128.3 117.0,126.9 117.6,125.8 118.2,126.1 118.8,126.5 119.3,126.6 119.9,126.7 120.5,127.8 121.1,124.3 121.7,125.5 122.3,121.1 122.8,114.0 123.4,101.8 124.0,95.5 124.6,100.8 125.2,110.3 125.7,118.6 126.3,123.5 126.9,127.1 127.5,127.9 128.1,129.3 128.6,126.7 129.2,126.6 129.8,122.7 130.4,119.1 131.0,110.3 131.5,92.1 132.1,80.2 132.7,90.0 133.3,112.2 133.9,128.3 134.4,135.7 135.0,139.7 135.6,142.7 136.2,142.2 136.8,143.0 137.3,144.3 137.9,143.6 138.5,144.0 139.1,144.4 139.7,145.9 140.2,145.9 140.8,146.9 141.4,147.1 142.0,144.6 142.6,146.3 143.2,147.2 143.7,145.5 144.3,145.0 144.9,144.1 145.5,146.3 146.1,145.2 146.6,146.4 147.2,146.3 147.8,147.2 148.4,146.6 149.0,146.4 149.5,146.9 150.1,145.7 150.7,146.4 151.3,145.5 151.9,147.6 152.4,147.4 153.0,148.1 153.6,147.8 154.2,145.8 154.8,144.6 155.3,147.1 155.9,146.0 156.5,146.1 157.1,145.6 157.7,145.3 158.2,145.0 158.8,144.0 159.4,141.7 160.0,140.3 160.6,143.7 161.2,145.1 161.7,145.6 162.3,145.4 162.9,145.2 163.5,146.6 164.1,145.1 164.6,146.7 165.2,145.9 165.8,146.4 166.4,144.5 167.0,143.8 167.5,144.7 168.1,144.0 168.7,144.5 169.3,145.8 169.9,146.8 170.4,146.1 171.0,145.0 171.6,145.8 172.2,147.0 172.8,146.7 173.3,148.4 173.9,147.8 174.5,146.1 175.1,147.3 175.7,144.2 176.2,143.5 176.8,145.2 177.4,143.8 178.0,144.5 178.6,146.1 179.2,144.7 179.7,146.1 180.3,145.7 180.9,144.6 181.5,144.4 182.1,143.3 182.6,141.4 183.2,139.3 183.8,141.4 184.4,140.7 185.0,143.4 185.5,144.2 186.1,144.9 186.7,145.0 187.3,142.9 187.9,143.6 188.4,144.2 189.0,144.2 189.6,145.0 190.2,145.3 190.8,145.6 191.3,145.2 191.9,147.7 192.5,144.2 193.1,144.4 193.7,145.2 194.2,144.3 194.8,144.0 195.4,144.3 196.0,143.4 196.6,143.8 197.1,144.4 197.7,144.2 198.3,141.7 198.9,142.4 199.5,143.1 200.1,143.7 200.6,141.7 201.2,142.9 201.8,141.4 202.4,142.4 203.0,142.1 203.5,143.4 204.1,141.6 204.7,142.7 205.3,142.0 205.9,141.7 206.4,142.6 207.0,140.7 207.6,141.3 208.2,139.5 208.8,138.6 209.3,138.8 209.9,138.6 210.5,136.8 211.1,136.2 211.7,138.6 212.2,139.8 212.8,141.0 213.4,143.1 214.0,144.4 214.6,144.7 215.1,141.6 215.7,138.3 216.3,125.0 216.9,102.9 217.5,76.2 218.1,58.0 218.6,58.7 219.2,73.8 219.8,96.7 220.4,123.6 221.0,142.4 221.5,152.7 222.1,158.2 222.7,159.5 223.3,160.7 223.9,161.5 224.4,161.6 225.0,161.6 225.6,161.9 226.2,161.3 226.8,161.7 227.3,161.6 227.9,162.2 228.5,162.0 229.1,162.1 229.7,162.6 230.2,162.1 230.8,162.7 231.4,162.6 232.0,162.2 232.6,162.2 233.1,162.1 233.7,161.1 234.3,161.3 234.9,162.0 235.5,161.6 236.0,162.1 236.6,162.8 237.2,163.3 237.8,162.6 238.4,163.1 239.0,163.2 239.5,162.7 240.1,163.1 240.7,162.4 241.3,163.4 241.9,163.8 242.4,163.1 243.0,163.1 243.6,162.9 244.2,161.6 244.8,162.3 245.3,163.4 245.9,162.7 246.5,163.3 247.1,163.2 247.7,163.4 248.2,162.8 248.8,163.2 249.4,162.8 250.0,163.6 250.6,162.8 251.1,162.9 251.7,163.3 252.3,163.6 252.9,162.9 253.5,162.6 254.0,162.2 254.6,162.9 255.2,162.2 255.8,162.3 256.4,162.2 257.0,162.9 257.5,162.4 258.1,162.5 258.7,162.8 259.3,162.5 259.9,161.7 260.4,162.0 261.0,162.0 261.6,162.2 262.2,161.7 262.8,162.9 263.3,162.2 263.9,162.7 264.5,162.4 265.1,162.4 265.7,162.5 266.2,161.9 266.8,161.4 267.4,162.5 268.0,162.1 268.6,163.0 269.1,161.9 269.7,162.1 270.3,162.0 270.9,161.6 271.5,161.5 272.0,161.4 272.6,161.4 273.2,161.4 273.8,161.4 274.4,161.5 274.9,160.6 275.5,162.1 276.1,161.5 276.7,160.3 277.3,160.2 277.9,159.6 278.4,159.3 279.0,160.3 279.6,161.2 280.2,160.6 280.8,160.8 281.3,160.8 281.9,161.2 282.5,161.2 283.1,161.1 283.7,161.2 284.2,161.7 284.8,161.2 285.4,160.6 286.0,161.8 286.6,161.9 287.1,162.5 287.7,162.0 288.3,161.9 288.9,161.7 289.5,161.4 290.0,161.8 290.6,161.4 291.2,161.0 291.8,161.2 292.4,160.9 292.9,160.2 293.5,159.2 294.1,159.0 294.7,158.5 295.3,160.5 295.9,161.1 296.4,161.8 297.0,162.4 297.6,161.9 298.2,162.4 298.8,162.9 299.3,161.9 299.9,162.1 300.5,162.3 301.1,162.4 301.7,162.9 302.2,162.3 302.8,163.6 303.4,163.2 304.0,162.6 304.6,160.3 305.1,158.9 305.7,154.6 306.3,150.8 306.9,148.4 307.5,150.9 308.0,155.5 308.6,159.9 309.2,162.7 309.8,162.5 310.4,162.7 310.9,162.5 311.5,162.3 312.1,162.5 312.7,163.5 313.3,164.3 313.8,163.9 314.4,165.7 315.0,164.9 315.6,166.2 316.2,166.0 316.8,164.9 317.3,165.6 317.9,166.2 318.5,166.2 319.1,165.5 319.7,164.9 320.2,165.5 320.8,164.3 321.4,164.5 322.0,165.6 322.6,164.8 323.1,165.7 323.7,165.2 324.3,165.6" stroke="#E6AB02"/>
<polyline points="34.0,122.6 34.6,122.8 35.2,122.7 35.7,120.9 36.3,120.8 36.9,121.0 37.5,120.0 38.1,120.6 38.6,120.3 39.2,121.9 39.8,120.9 40.4,121.6 41.0,121.7 41.5,121.4 42.1,121.4 42.7,121.2 43.3,119.5 43.9,121.5 44.5,121.0 45.0,121.3 45.6,120.7 46.2,120.6 46.8,121.0 47.4,120.1 47.9,120.2 48.5,119.9 49.1,119.1 49.7,118.9 50.3,118.4 50.8,119.0 51.4,120.0 52.0,119.7 52.6,121.1 53.2,121.2 53.7,122.1 54.3,119.9 54.9,120.3 55.5,120.1 56.1,118.2 56.6,118.9 57.2,119.3 57.8,119.0 58.4,119.6 59.0,118.7 59.5,118.0 60.1,119.0 60.7,118.5 61.3,120.4 61.9,116.2 62.4,117.4 63.0,116.9 63.6,116.6 64.2,114.7 64.8,116.7 65.4,116.2 65.9,117.1 66.5,115.4 67.1,117.8 67.7,116.2 68.3,115.9 68.8,116.7 69.4,115.1 70.0,115.1 70.6,115.8 71.2,114.5 71.7,114.3 72.3,111.3 72.9,111.0 73.5,109.4 74.1,111.0 74.6,108.8 75.2,110.6 75.8,110.6 76.4,113.8 77.0,114.4 77.5,116.0 78.1,117.4 78.7,118.5 79.3,117.2 79.9,119.2 80.4,118.2 81.0,118.0 81.6,118.2 82.2,118.3 82.8,119.1 83.4,120.1 83.9,119.9 84.5,120.5 85.1,118.9 85.7,119.9 86.3,119.9 86.8,119.7 87.4,120.2 88.0,119.9 88.6,118.9 89.2,119.3 89.7,120.7 90.3,119.6 90.9,120.4 91.5,118.8 92.1,118.0 92.6,115.6 93.2,105.3 93.8,99.7 94.4,106.8 95.0,113.9 95.5,118.6 96.1,121.1 96.7,120.9 97.3,120.1 97.9,119.5 98.4,120.2 99.0,119.3 99.6,118.9 100.2,120.2 100.8,120.5 101.3,118.9 101.9,120.0 102.5,119.4 103.1,120.9 103.7,120.6 104.3,120.9 104.8,119.9 105.4,120.5 106.0,121.0 106.6,120.6 107.2,121.4 107.7,118.7 108.3,120.8 108.9,118.8 109.5,119.9 110.1,120.2 110.6,119.6 111.2,117.8 111.8,119.1 112.4,117.5 113.0,119.7 113.5,119.7 114.1,121.2 114.7,119.2 115.3,118.7 115.9,118.8 116.4,118.6 117.0,119.1 117.6,119.0 118.2,119.9 118.8,117.0 119.3,118.2 119.9,115.7 120.5,116.1 121.1,116.7 121.7,115.4 122.3,111.9 122.8,104.1 123.4,95.2 124.0,87.4 124.6,88.5 125.2,99.4 125.7,108.2 126.3,113.1 126.9,115.4 127.5,115.8 128.1,115.5 128.6,116.5 129.2,114.8 129.8,113.7 130.4,110.2 131.0,100.4 131.5,84.2 132.1,72.4 132.7,83.9 133.3,106.4 133.9,119.4 134.4,127.8 135.0,130.9 135.6,132.1 136.2,132.8 136.8,133.4 137.3,133.3 137.9,135.6 138.5,135.9 139.1,134.5 139.7,136.2 140.2,136.5 140.8,136.3 141.4,135.9 142.0,136.2 142.6,135.9 143.2,135.8 143.7,137.3 144.3,136.9 144.9,137.4 145.5,135.3 146.1,135.5 146.6,133.9 147.2,136.2 147.8,136.4 148.4,138.2 149.0,138.4 149.5,137.3 150.1,137.4 150.7,136.3 151.3,136.2 151.9,138.4 152.4,138.4 153.0,138.3 153.6,137.3 154.2,137.9 154.8,137.3 155.3,138.4 155.9,134.4 156.5,135.2 157.1,136.6 157.7,136.2 158.2,135.0 158.8,133.2 159.4,131.7 160.0,133.8 160.6,135.0 161.2,135.8 161.7,136.8 162.3,138.2 162.9,136.4 163.5,136.2 164.1,136.9 164.6,136.0 165.2,137.0 165.8,136.7 166.4,136.9 167.0,136.4 167.5,136.1 168.1,136.7 168.7,134.7 169.3,135.0 169.9,135.3 170.4,135.0 171.0,136.0 171.6,135.2 172.2,136.4 172.8,135.8 173.3,134.3 173.9,133.5 174.5,136.7 175.1,135.8 175.7,135.9 176.2,135.0 176.8,134.4 177.4,135.9 178.0,134.1 178.6,134.6 179.2,134.8 179.7,133.8 180.3,133.6 180.9,133.4 181.5,133.6 182.1,134.5 182.6,132.1 183.2,131.6 183.8,130.7 184.4,132.1 185.0,132.8 185.5,132.5 186.1,134.0 186.7,133.3 187.3,133.6 187.9,134.4 188.4,134.6 189.0,133.6 189.6,134.2 190.2,134.8 190.8,134.9 191.3,134.4 191.9,133.6 192.5,134.9 193.1,133.6 193.7,132.8 194.2,133.3 194.8,133.2 195.4,133.7 196.0,132.9 196.6,133.3 197.1,133.9 197.7,134.2 198.3,134.1 198.9,132.0 199.5,134.6 200.1,133.4 200.6,132.1 201.2,133.6 201.8,132.7 202.4,132.5 203.0,133.9 203.5,131.8 204.1,131.7 204.7,131.6 205.3,131.4 205.9,133.8 206.4,131.0 207.0,130.4 207.6,130.8 208.2,130.7 208.8,130.4 209.3,127.9 209.9,128.6 210.5,126.2 211.1,125.5 211.7,126.8 212.2,129.5 212.8,130.7 213.4,131.9 214.0,133.5 214.6,135.2 215.1,133.1 215.7,127.0 216.3,115.2 216.9,95.1 217.5,66.6 218.1,47.5 218.6,49.5 219.2,63.9 219.8,87.4 220.4,113.8 221.0,132.6 221.5,143.3 222.1,148.4 222.7,149.9 223.3,150.4 223.9,151.0 224.4,151.9 225.0,151.1 225.6,151.2 226.2,151.9 226.8,151.5 227.3,151.6 227.9,152.2 228.5,152.1 229.1,152.1 229.7,152.4 230.2,153.3 230.8,153.1 231.4,152.7 232.0,152.7 232.6,153.5 233.1,152.7 233.7,153.0 234.3,153.0 234.9,152.7 235.5,153.3 236.0,153.0 236.6,153.2 237.2,153.6 237.8,152.9 238.4,153.7 239.0,153.4 239.5,153.5 240.1,153.1 240.7,152.4 241.3,153.1 241.9,153.2 242.4,152.7 243.0,152.6 243.6,152.6 244.2,152.9 244.8,153.1 245.3,153.1 245.9,153.1 246.5,153.1 247.1,153.1 247.7,153.1 248.2,153.0 248.8,154.5 249.4,153.3 250.0,153.3 250.6,154.2 251.1,153.7 251.7,153.7 252.3,153.2 252.9,153.3 253.5,153.4 254.0,154.1 254.6,153.0 255.2,152.8 255.8,153.0 256.4,152.9 257.0,152.9 257.5,152.8 258.1,153.7 258.7,152.5 259.3,153.2 259.9,152.2 260.4,152.2 261.0,152.1 261.6,152.4 262.2,152.8 262.8,153.2 263.3,152.6 263.9,152.5 264.5,152.2 265.1,152.6 265.7,152.5 266.2,152.5 266.8,151.8 267.4,151.9 268.0,151.7 268.6,152.6 269.1,151.2 269.7,152.9 270.3,152.0 270.9,151.8 271.5,152.1 272.0,151.7 272.6,151.6 273.2,152.0 273.8,152.1 274.4,151.5 274.9,152.2 275.5,150.8 276.1,151.5 276.7,151.1 277.3,150.6 277.9,151.5 278.4,151.9 279.0,150.7 279.6,151.7 280.2,151.6 280.8,151.8 281.3,150.9 281.9,151.6 282.5,151.6 283.1,151.1 283.7,150.8 284.2,151.2 284.8,151.6 285.4,151.2 286.0,150.6 286.6,150.8 287.1,151.0 287.7,151.8 288.3,152.5 288.9,152.1 289.5,151.4 290.0,151.5 290.6,152.0 291.2,151.8 291.8,152.1 292.4,151.6 292.9,150.5 293.5,149.5 294.1,148.9 294.7,148.8 295.3,151.0 295.9,151.1 296.4,152.2 297.0,152.8 297.6,152.8 298.2,153.3 298.8,153.0 299.3,153.0 299.9,153.4 300.5,152.3 301.1,152.8 301.7,153.8 302.2,152.9 302.8,152.7 303.4,152.9 304.0,152.5 304.6,151.8 305.1,149.4 305.7,145.5 306.3,141.3 306.9,138.7 307.5,141.4 308.0,146.3 308.6,149.3 309.2,151.9 309.8,153.3 310.4,152.5 310.9,153.1 311.5,152.4 312.1,152.9 312.7,153.9 313.3,155.5 313.8,154.4 314.4,155.0 315.0,154.8 315.6,155.4 316.2,155.3 316.8,155.4 317.3,155.8 317.9,155.6 318.5,155.7 319.1,155.8 319.7,155.5 320.2,155.3 320.8,154.9 321.4,155.2 322.0,155.0 322.6,154.9 323.1,155.0 323.7,155.4 324.3,155.6" stroke="#A6761D"/>
<polyline points="376.2,187.4 376.8,186.8 377.4,187.2 377.9,185.8 378.5,189.6 379.1,189.1 379.7,187.7 380.3,188.4 380.8,187.7 381.4,186.7 382.0,187.8 382.6,186.7 383.2,186.9 383.7,186.5 384.3,187.5 384.9,187.3 385.5,188.3 386.1,187.3 386.7,187.4 387.2,186.0 387.8,187.3 388.4,186.9 389.0,187.2 389.6,187.5 390.1,186.5 390.7,187.9 391.3,188.6 391.9,185.2 392.5,185.2 393.0,185.4 393.6,187.4 394.2,187.0 394.8,188.3 395.4,188.4 395.9,188.2 396.5,188.1 397.1,187.4 397.7,188.1 398.3,186.4 398.8,186.8 399.4,187.0 400.0,187.9 400.6,185.4 401.2,184.8 401.7,184.8 402.3,185.9 402.9,184.9 403.5,186.3 404.1,183.7 404.6,186.6 405.2,186.9 405.8,184.8 406.4,185.5 407.0,185.7 407.6,184.5 408.1,185.2 408.7,186.3 409.3,184.2 409.9,183.5 410.5,182.8 411.0,183.8 411.6,182.9 412.2,183.2 412.8,183.6 413.4,184.1 413.9,182.1 414.5,181.2 415.1,180.3 415.7,183.8 416.3,183.6 416.8,185.7 417.4,185.2 418.0,185.4 418.6,186.9 419.2,186.2 419.7,184.9 420.3,185.0 420.9,187.4 421.5,186.5 422.1,186.9 422.6,186.6 423.2,186.6 423.8,188.3 424.4,187.6 425.0,186.9 425.6,187.2 426.1,186.7 426.7,188.2 427.3,189.2 427.9,187.1 428.5,188.4 429.0,186.1 429.6,186.7 430.2,186.3 430.8,187.2 431.4,187.3 431.9,186.9 432.5,186.6 433.1,186.6 433.7,186.6 434.3,186.0 434.8,187.2 435.4,187.9 436.0,188.2 436.6,187.4 437.2,188.3 437.7,186.1 438.3,185.3 438.9,187.5 439.5,185.2 440.1,186.7 440.6,184.7 441.2,185.9 441.8,184.2 442.4,186.7 443.0,185.7 443.5,185.2 444.1,187.8 444.7,187.2 445.3,186.5 445.9,186.0 446.5,187.1 447.0,187.7 447.6,189.0 448.2,188.9 448.8,186.9 449.4,186.3 449.9,186.1 450.5,185.3 451.1,185.8 451.7,186.2 452.3,186.8 452.8,186.9 453.4,184.5 454.0,185.4 454.6,184.5 455.2,186.7 455.7,184.8 456.3,184.9 456.9,183.0 457.5,182.4 458.1,183.2 458.6,183.5 459.2,185.0 459.8,184.1 460.4,186.7 461.0,185.8 461.5,188.0 462.1,186.0 462.7,186.5 463.3,182.7 463.9,180.5 464.5,173.5 465.0,169.1 465.6,171.4 466.2,177.6 466.8,183.9 467.4,187.8 467.9,189.5 468.5,189.9 469.1,189.7 469.7,190.6 470.3,190.6 470.8,187.7 471.4,188.2 472.0,183.4 472.6,176.1 473.2,170.3 473.7,172.7 474.3,180.7 474.9,186.2 475.5,190.6 476.1,192.0 476.6,192.1 477.2,194.4 477.8,194.5 478.4,193.0 479.0,194.6 479.5,193.7 480.1,195.1 480.7,194.6 481.3,193.5 481.9,194.0 482.4,195.0 483.0,194.9 483.6,196.3 484.2,195.9 484.8,195.3 485.4,195.9 485.9,194.2 486.5,195.9 487.1,196.2 487.7,195.3 488.3,194.6 488.8,195.2 489.4,196.2 490.0,195.2 490.6,194.5 491.2,196.5 491.7,194.5 492.3,196.3 492.9,195.4 493.5,195.9 494.1,194.3 494.6,195.6 495.2,194.9 495.8,193.8 496.4,193.9 497.0,195.3 497.5,196.7 498.1,196.3 498.7,196.5 499.3,196.2 499.9,196.5 500.4,195.8 501.0,194.4 501.6,189.8 502.2,184.5 502.8,182.6 503.4,187.2 503.9,195.1 504.5,196.0 505.1,195.7 505.7,194.5 506.3,195.6 506.8,195.0 507.4,194.1 508.0,193.1 508.6,195.1 509.2,194.0 509.7,194.2 510.3,196.4 510.9,195.8 511.5,194.9 512.1,194.0 512.6,195.1 513.2,193.3 513.8,195.0 514.4,194.3 515.0,193.9 515.5,193.7 516.1,195.3 516.7,195.2 517.3,195.7 517.9,196.7 518.4,196.0 519.0,195.7 519.6,195.0 520.2,195.7 520.8,196.7 521.4,196.5 521.9,197.2 522.5,195.7 523.1,195.8 523.7,195.4 524.3,194.8 524.8,196.7 525.4,196.1 526.0,195.2 526.6,195.4 527.2,196.0 527.7,194.8 528.3,195.3 528.9,193.4 529.5,193.9 530.1,193.9 530.6,194.9 531.2,194.6 531.8,194.3 532.4,194.6 533.0,194.8 533.5,195.0 534.1,194.9 534.7,195.5 535.3,194.7 535.9,194.0 536.4,194.8 537.0,193.9 537.6,195.6 538.2,195.3 538.8,194.0 539.3,195.1 539.9,194.6 540.5,191.6 541.1,192.7 541.7,193.1 542.3,192.3 542.8,192.7 543.4,192.8 544.0,193.9 544.6,193.7 545.2,194.9 545.7,192.6 546.3,193.6 546.9,192.8 547.5,192.9 548.1,191.8 548.6,191.1 549.2,191.8 549.8,192.9 550.4,193.6 551.0,192.9 551.5,192.5 552.1,191.0 552.7,192.3 553.3,192.3 553.9,192.2 554.4,194.1 555.0,194.9 555.6,197.9 556.2,198.7 556.8,199.7 557.3,199.9 557.9,196.8 558.5,189.0 559.1,176.8 559.7,164.4 560.3,158.5 560.8,162.7 561.4,171.5 562.0,181.0 562.6,192.7 563.2,199.9 563.7,202.8 564.3,204.7 564.9,204.9 565.5,206.3 566.1,206.1 566.6,206.9 567.2,207.4 567.8,206.9 568.4,206.3 569.0,206.6 569.5,207.0 570.1,206.7 570.7,207.0 571.3,206.6 571.9,206.9 572.4,206.8 573.0,206.6 573.6,207.5 574.2,207.0 574.8,206.8 575.3,206.6 575.9,207.6 576.5,207.0 577.1,207.2 577.7,206.8 578.2,207.3 578.8,207.3 579.4,206.9 580.0,207.1 580.6,207.2 581.2,206.4 581.7,207.6 582.3,207.7 582.9,207.5 583.5,206.9 584.1,207.0 584.6,206.4 585.2,206.9 585.8,206.8 586.4,207.2 587.0,207.0 587.5,207.2 588.1,207.4 588.7,206.4 589.3,207.2 589.9,206.0 590.4,205.9 591.0,206.8 591.6,206.8 592.2,206.9 592.8,206.0 593.3,206.8 593.9,207.1 594.5,207.7 595.1,207.3 595.7,207.6 596.2,207.0 596.8,207.2 597.4,207.0 598.0,207.2 598.6,206.3 599.2,206.2 599.7,206.5 600.3,206.7 600.9,206.1 601.5,206.2 602.1,206.2 602.6,206.9 603.2,206.8 603.8,207.2 604.4,206.5 605.0,205.8 605.5,205.9 606.1,205.8 606.7,205.7 607.3,206.5 607.9,206.1 608.4,205.3 609.0,206.7 609.6,206.5 610.2,206.3 610.8,207.0 611.3,206.8 611.9,206.4 612.5,205.8 613.1,206.5 613.7,206.7 614.2,205.8 614.8,206.9 615.4,206.7 616.0,206.0 616.6,206.1 617.1,205.9 617.7,205.6 618.3,205.8 618.9,206.5 619.5,205.6 620.1,206.2 620.6,206.1 621.2,205.6 621.8,205.7 622.4,205.3 623.0,205.4 623.5,205.6 624.1,205.6 624.7,205.2 625.3,206.7 625.9,205.3 626.4,205.7 627.0,205.8 627.6,205.8 628.2,206.0 628.8,204.9 629.3,205.5 629.9,205.7 630.5,205.1 631.1,205.9 631.7,205.1 632.2,206.1 632.8,204.9 633.4,204.8 634.0,204.4 634.6,204.4 635.1,204.0 635.7,203.0 636.3,202.6 636.9,203.3 637.5,204.3 638.1,205.5 638.6,204.4 639.2,204.8 639.8,204.8 640.4,204.8 641.0,205.0 641.5,205.2 642.1,205.9 642.7,205.7 643.3,205.7 643.9,206.1 644.4,206.0 645.0,205.9 645.6,206.2 646.2,205.6 646.8,206.0 647.3,205.9 647.9,205.8 648.5,205.6 649.1,205.8 649.7,202.8 650.2,200.7 650.8,199.8 651.4,203.9 652.0,205.8 652.6,206.7 653.1,207.0 653.7,206.4 654.3,207.0 654.9,207.5 655.5,207.7 656.0,208.1 656.6,208.6 657.2,209.0 657.8,209.3 658.4,209.4 659.0,209.3 659.5,209.5 660.1,209.6 660.7,210.1 661.3,209.7 661.9,209.2 662.4,209.5 663.0,208.5 663.6,208.3 664.2,208.4 664.8,208.4 665.3,207.0 665.9,207.3 666.5,207.6" stroke="#1B9E77"/>
<polyline points="376.2,172.7 376.8,173.7 377.4,173.4 377.9,173.0 378.5,174.6 379.1,174.4 379.7,175.2 380.3,172.4 380.8,172.6 381.4,173.1 382.0,173.1 382.6,173.4 383.2,173.3 383.7,172.6 384.3,171.6 384.9,172.1 385.5,171.0 386.1,170.8 386.7,171.4 387.2,173.1 387.8,174.3 388.4,173.1 389.0,173.9 389.6,173.5 390.1,171.9 390.7,170.3 391.3,170.1 391.9,172.7 392.5,172.8 393.0,172.0 393.6,170.7 394.2,172.8 394.8,172.6 395.4,171.7 395.9,171.8 396.5,170.4 397.1,172.8 397.7,170.6 398.3,172.3 398.8,171.9 399.4,170.9 400.0,171.8 400.6,169.9 401.2,170.6 401.7,171.1 402.3,170.9 402.9,170.2 403.5,171.3 404.1,170.5 404.6,169.9 405.2,169.8 405.8,169.8 406.4,171.5 407.0,169.8 407.6,169.4 408.1,168.1 408.7,167.1 409.3,166.0 409.9,167.9 410.5,167.9 411.0,167.1 411.6,166.8 412.2,167.7 412.8,167.0 413.4,165.1 413.9,164.9 414.5,163.5 415.1,162.5 415.7,163.0 416.3,162.6 416.8,166.3 417.4,166.7 418.0,169.7 418.6,170.7 419.2,170.0 419.7,170.5 420.3,169.3 420.9,169.3 421.5,170.3 422.1,169.7 422.6,171.1 423.2,171.0 423.8,171.7 424.4,171.1 425.0,170.7 425.6,170.8 426.1,170.8 426.7,170.8 427.3,172.8 427.9,169.4 428.5,170.3 429.0,170.8 429.6,170.2 430.2,171.3 430.8,170.9 431.4,169.3 431.9,169.9 432.5,168.9 433.1,170.7 433.7,170.9 434.3,169.1 434.8,170.0 435.4,169.3 436.0,168.5 436.6,169.3 437.2,168.3 437.7,169.3 438.3,170.0 438.9,170.3 439.5,170.6 440.1,169.0 440.6,169.4 441.2,169.6 441.8,170.0 442.4,167.2 443.0,168.8 443.5,169.9 444.1,168.3 444.7,169.5 445.3,169.9 445.9,167.5 446.5,168.8 447.0,169.1 447.6,169.0 448.2,168.0 448.8,169.8 449.4,169.1 449.9,170.5 450.5,170.4 451.1,169.5 451.7,169.5 452.3,168.3 452.8,168.2 453.4,167.5 454.0,168.5 454.6,168.7 455.2,167.8 455.7,167.8 456.3,167.4 456.9,167.1 457.5,167.5 458.1,165.2 458.6,168.4 459.2,167.3 459.8,169.7 460.4,169.0 461.0,167.4 461.5,168.1 462.1,167.3 462.7,166.4 463.3,164.1 463.9,158.3 464.5,152.0 465.0,147.4 465.6,148.7 466.2,156.5 466.8,162.9 467.4,166.9 467.9,169.5 468.5,170.8 469.1,172.9 469.7,170.9 470.3,171.7 470.8,169.8 471.4,166.7 472.0,158.8 472.6,146.8 473.2,136.2 473.7,142.5 474.3,155.4 474.9,167.3 475.5,171.7 476.1,177.4 476.6,178.6 477.2,177.8 477.8,178.1 478.4,177.2 479.0,177.7 479.5,178.9 480.1,178.7 480.7,177.7 481.3,178.7 481.9,179.2 482.4,180.4 483.0,180.7 483.6,180.0 484.2,180.0 484.8,180.0 485.4,178.9 485.9,180.9 486.5,181.1 487.1,181.8 487.7,179.8 488.3,181.1 488.8,180.0 489.4,180.7 490.0,181.5 490.6,179.8 491.2,180.0 491.7,181.5 492.3,179.8 492.9,179.7 493.5,180.5 494.1,179.7 494.6,180.1 495.2,179.8 495.8,179.9 496.4,181.2 497.0,182.6 497.5,181.3 498.1,182.2 498.7,181.6 499.3,180.6 499.9,180.6 500.4,179.7 501.0,180.1 501.6,180.8 502.2,180.4 502.8,181.0 503.4,179.1 503.9,179.6 504.5,179.4 505.1,179.9 505.7,180.9 506.3,179.3 506.8,180.5 507.4,179.3 508.0,179.4 508.6,180.2 509.2,179.5 509.7,180.4 510.3,180.3 510.9,180.1 511.5,179.7 512.1,178.1 512.6,178.0 513.2,178.4 513.8,178.9 514.4,178.2 515.0,179.8 515.5,179.2 516.1,177.9 516.7,178.2 517.3,179.3 517.9,177.9 518.4,178.9 519.0,179.8 519.6,180.1 520.2,180.1 520.8,179.9 521.4,178.7 521.9,178.8 522.5,180.7 523.1,178.4 523.7,178.5 524.3,177.5 524.8,175.3 525.4,175.6 526.0,175.4 526.6,177.3 527.2,176.4 527.7,179.8 528.3,180.0 528.9,178.5 529.5,179.6 530.1,178.7 530.6,179.1 531.2,179.8 531.8,178.7 532.4,177.8 533.0,178.3 533.5,177.4 534.1,177.6 534.7,177.4 535.3,177.2 535.9,178.5 536.4,178.6 537.0,177.6 537.6,178.9 538.2,176.8 538.8,177.6 539.3,178.2 539.9,179.0 540.5,178.6 541.1,178.4 541.7,179.1 542.3,178.9 542.8,179.5 543.4,178.1 544.0,177.2 544.6,177.6 545.2,177.7 545.7,176.6 546.3,176.5 546.9,176.3 547.5,176.5 548.1,177.2 548.6,176.3 549.2,177.2 549.8,175.1 550.4,174.7 551.0,172.4 551.5,172.2 552.1,169.9 552.7,172.4 553.3,172.5 553.9,176.0 554.4,177.5 555.0,177.9 555.6,179.7 556.2,178.6 556.8,179.5 557.3,176.2 557.9,171.7 558.5,160.3 559.1,144.3 559.7,125.0 560.3,115.8 560.8,120.6 561.4,132.9 562.0,153.0 562.6,169.7 563.2,180.0 563.7,186.5 564.3,188.2 564.9,190.8 565.5,191.5 566.1,191.8 566.6,191.4 567.2,191.2 567.8,191.0 568.4,191.9 569.0,191.5 569.5,191.7 570.1,191.7 570.7,191.7 571.3,192.0 571.9,192.2 572.4,191.7 573.0,191.8 573.6,191.7 574.2,191.8 574.8,191.9 575.3,192.6 575.9,192.4 576.5,192.7 577.1,192.5 577.7,192.1 578.2,191.8 578.8,192.2 579.4,192.0 580.0,193.4 580.6,192.6 581.2,192.3 581.7,193.2 582.3,192.3 582.9,192.8 583.5,192.6 584.1,192.6 584.6,192.2 585.2,192.5 585.8,192.9 586.4,191.8 587.0,191.3 587.5,192.6 588.1,192.1 588.7,192.4 589.3,192.0 589.9,193.0 590.4,193.3 591.0,192.2 591.6,192.8 592.2,192.3 592.8,191.8 593.3,192.2 593.9,192.4 594.5,191.5 595.1,191.6 595.7,192.6 596.2,192.3 596.8,192.4 597.4,191.7 598.0,191.8 598.6,192.1 599.2,192.3 599.7,192.3 600.3,192.8 600.9,192.2 601.5,191.6 602.1,192.0 602.6,192.4 603.2,192.9 603.8,192.1 604.4,192.2 605.0,192.2 605.5,192.0 606.1,191.9 606.7,192.1 607.3,192.5 607.9,192.2 608.4,191.8 609.0,192.0 609.6,191.5 610.2,192.5 610.8,192.3 611.3,192.0 611.9,191.4 612.5,192.7 613.1,190.4 613.7,190.9 614.2,191.1 614.8,192.1 615.4,191.5 616.0,192.2 616.6,192.0 617.1,191.9 617.7,192.3 618.3,192.4 618.9,192.0 619.5,191.7 620.1,191.0 620.6,192.4 621.2,191.7 621.8,191.0 622.4,191.7 623.0,192.0 623.5,191.3 624.1,190.8 624.7,192.3 625.3,191.8 625.9,191.7 626.4,191.7 627.0,190.3 627.6,191.0 628.2,191.1 628.8,192.0 629.3,190.9 629.9,191.0 630.5,190.7 631.1,190.9 631.7,191.0 632.2,191.1 632.8,190.8 633.4,191.7 634.0,191.1 634.6,190.7 635.1,190.3 635.7,189.3 636.3,188.3 636.9,188.2 637.5,189.7 638.1,189.9 638.6,191.1 639.2,190.6 639.8,190.3 640.4,191.3 641.0,191.5 641.5,190.9 642.1,191.1 642.7,191.2 643.3,191.7 643.9,191.0 644.4,190.6 645.0,189.9 645.6,188.7 646.2,188.3 646.8,185.6 647.3,182.0 647.9,181.5 648.5,183.2 649.1,186.2 649.7,188.8 650.2,190.6 650.8,190.4 651.4,191.0 652.0,191.3 652.6,191.3 653.1,191.1 653.7,191.2 654.3,191.5 654.9,191.4 655.5,192.2 656.0,192.2 656.6,193.2 657.2,192.1 657.8,192.6 658.4,193.2 659.0,193.0 659.5,192.9 660.1,192.5 660.7,192.5 661.3,191.6 661.9,192.1 662.4,192.5 663.0,192.5 663.6,193.8 664.2,194.2 664.8,195.0 665.3,195.6 665.9,195.7 666.5,195.4" stroke="#D95F02"/>
<polyline points="376.2,157.6 376.8,159.1 377.4,160.1 377.9,160.9 378.5,157.7 379.1,158.0 379.7,158.3 380.3,156.8 380.8,158.1 381.4,158.1 382.0,157.2 382.6,157.5 383.2,157.7 383.7,158.8 384.3,159.3 384.9,158.0 385.5,159.9 386.1,156.6 386.7,157.8 387.2,159.3 387.8,157.8 388.4,158.5 389.0,158.0 389.6,156.6 390.1,155.8 390.7,156.8 391.3,156.6 391.9,157.1 392.5,157.6 393.0,157.2 393.6,156.7 394.2,156.8 394.8,157.0 395.4,156.7 395.9,157.5 396.5,156.8 397.1,157.4 397.7,156.5 398.3,155.5 398.8,156.8 399.4,156.6 400.0,155.1 400.6,154.7 401.2,157.0 401.7,152.2 402.3,156.5 402.9,155.6 403.5,155.1 404.1,154.5 404.6,154.0 405.2,156.1 405.8,153.5 406.4,153.3 407.0,153.9 407.6,153.5 408.1,153.3 408.7,153.4 409.3,152.4 409.9,154.3 410.5,152.4 411.0,151.1 411.6,153.7 412.2,153.3 412.8,152.7 413.4,150.8 413.9,150.3 414.5,146.6 415.1,144.9 415.7,147.1 416.3,148.7 416.8,150.0 417.4,152.5 418.0,152.5 418.6,152.8 419.2,154.0 419.7,155.7 420.3,154.9 420.9,154.7 421.5,153.8 422.1,155.8 422.6,155.5 423.2,156.9 423.8,156.5 424.4,156.6 425.0,157.7 425.6,156.6 426.1,157.9 426.7,155.0 427.3,155.3 427.9,155.5 428.5,156.1 429.0,153.3 429.6,154.2 430.2,155.2 430.8,155.6 431.4,154.9 431.9,154.0 432.5,154.1 433.1,155.0 433.7,153.9 434.3,156.7 434.8,156.1 435.4,153.2 436.0,154.5 436.6,156.5 437.2,157.1 437.7,156.8 438.3,154.3 438.9,154.9 439.5,156.1 440.1,155.1 440.6,154.6 441.2,155.5 441.8,156.4 442.4,156.2 443.0,156.3 443.5,156.5 444.1,154.5 444.7,153.8 445.3,155.2 445.9,153.6 446.5,154.9 447.0,153.7 447.6,154.9 448.2,153.2 448.8,155.1 449.4,154.2 449.9,153.6 450.5,153.2 451.1,153.9 451.7,153.2 452.3,152.8 452.8,154.6 453.4,154.2 454.0,154.8 454.6,152.6 455.2,151.8 455.7,151.8 456.3,153.4 456.9,152.9 457.5,149.9 458.1,152.0 458.6,151.3 459.2,151.3 459.8,152.5 460.4,153.2 461.0,152.7 461.5,152.6 462.1,151.3 462.7,149.3 463.3,147.7 463.9,142.5 464.5,138.6 465.0,132.7 465.6,136.7 466.2,141.0 466.8,149.7 467.4,152.1 467.9,155.2 468.5,158.6 469.1,160.6 469.7,159.8 470.3,158.1 470.8,157.6 471.4,152.4 472.0,144.1 472.6,133.6 473.2,125.5 473.7,129.5 474.3,143.7 474.9,155.1 475.5,158.4 476.1,161.4 476.6,161.9 477.2,163.5 477.8,164.8 478.4,163.8 479.0,164.8 479.5,164.7 480.1,165.4 480.7,164.7 481.3,164.6 481.9,165.6 482.4,164.2 483.0,164.9 483.6,165.1 484.2,164.2 484.8,164.9 485.4,164.2 485.9,163.0 486.5,164.2 487.1,164.3 487.7,166.1 488.3,165.4 488.8,165.8 489.4,165.6 490.0,166.2 490.6,165.2 491.2,165.2 491.7,166.2 492.3,167.3 492.9,166.2 493.5,166.2 494.1,165.7 494.6,165.4 495.2,164.9 495.8,165.9 496.4,165.8 497.0,165.8 497.5,167.1 498.1,165.3 498.7,165.6 499.3,165.2 499.9,166.6 500.4,166.2 501.0,167.9 501.6,166.1 502.2,166.1 502.8,165.9 503.4,165.3 503.9,166.5 504.5,166.2 505.1,165.4 505.7,165.1 506.3,165.3 506.8,166.1 507.4,164.5 508.0,165.1 508.6,164.1 509.2,165.1 509.7,164.4 510.3,164.9 510.9,165.4 511.5,164.8 512.1,165.2 512.6,166.1 513.2,165.2 513.8,164.4 514.4,163.5 515.0,163.5 515.5,164.7 516.1,164.0 516.7,163.9 517.3,164.4 517.9,164.5 518.4,164.9 519.0,164.5 519.6,164.7 520.2,164.3 520.8,164.7 521.4,164.3 521.9,164.7 522.5,164.4 523.1,163.7 523.7,164.5 524.3,162.2 524.8,160.9 525.4,159.8 526.0,160.6 526.6,162.7 527.2,163.5 527.7,164.0 528.3,165.3 528.9,163.3 529.5,163.5 530.1,163.9 530.6,164.0 531.2,163.6 531.8,162.8 532.4,162.8 533.0,163.2 533.5,164.1 534.1,162.9 534.7,161.8 535.3,163.4 535.9,162.3 536.4,162.9 537.0,163.8 537.6,163.1 538.2,164.6 538.8,162.3 539.3,163.5 539.9,163.5 540.5,163.5 541.1,162.1 541.7,162.5 542.3,162.5 542.8,162.5 543.4,161.6 544.0,161.5 544.6,163.1 545.2,162.8 545.7,162.1 546.3,162.0 546.9,162.1 547.5,160.9 548.1,162.6 548.6,163.3 549.2,162.6 549.8,161.5 550.4,160.6 551.0,157.8 551.5,156.9 552.1,156.8 552.7,157.2 553.3,158.3 553.9,159.9 554.4,161.9 555.0,163.8 555.6,165.3 556.2,165.0 556.8,164.2 557.3,163.6 557.9,158.7 558.5,148.9 559.1,129.9 559.7,110.0 560.3,101.2 560.8,105.5 561.4,118.0 562.0,136.6 562.6,153.8 563.2,165.7 563.7,171.8 564.3,174.8 564.9,176.2 565.5,176.2 566.1,176.4 566.6,175.9 567.2,176.9 567.8,177.1 568.4,176.5 569.0,176.6 569.5,176.4 570.1,177.1 570.7,177.0 571.3,177.4 571.9,176.6 572.4,178.1 573.0,176.6 573.6,176.5 574.2,177.0 574.8,176.9 575.3,178.2 575.9,177.5 576.5,177.4 577.1,177.8 577.7,177.8 578.2,176.9 578.8,177.1 579.4,177.3 580.0,177.3 580.6,177.9 581.2,177.6 581.7,177.6 582.3,177.7 582.9,177.1 583.5,177.4 584.1,176.9 584.6,176.7 585.2,177.8 585.8,176.6 586.4,177.3 587.0,177.0 587.5,176.6 588.1,177.1 588.7,177.3 589.3,177.5 589.9,177.0 590.4,177.7 591.0,177.6 591.6,177.8 592.2,176.7 592.8,177.2 593.3,177.1 593.9,177.6 594.5,177.1 595.1,177.1 595.7,176.6 596.2,176.5 596.8,176.6 597.4,177.3 598.0,176.6 598.6,176.2 599.2,177.4 599.7,177.2 600.3,177.5 600.9,177.5 601.5,177.3 602.1,177.3 602.6,177.3 603.2,177.4 603.8,176.8 604.4,177.0 605.0,177.5 605.5,176.8 606.1,177.0 606.7,177.2 607.3,177.7 607.9,177.7 608.4,177.9 609.0,177.6 609.6,177.4 610.2,177.6 610.8,177.0 611.3,177.7 611.9,177.4 612.5,178.0 613.1,177.5 613.7,176.4 614.2,176.5 614.8,177.0 615.4,175.7 616.0,176.1 616.6,176.7 617.1,176.8 617.7,176.7 618.3,177.2 618.9,176.8 619.5,176.9 620.1,176.8 620.6,176.4 621.2,176.8 621.8,176.6 622.4,176.7 623.0,175.7 623.5,176.7 624.1,176.5 624.7,176.4 625.3,176.6 625.9,176.2 626.4,176.5 627.0,176.6 627.6,176.5 628.2,176.7 628.8,176.4 629.3,176.2 629.9,175.6 630.5,175.9 631.1,176.5 631.7,176.5 632.2,176.2 632.8,176.4 633.4,176.7 634.0,176.0 634.6,176.4 635.1,174.8 635.7,174.6 636.3,174.1 636.9,174.1 637.5,174.9 638.1,175.8 638.6,175.4 639.2,176.8 639.8,177.1 640.4,176.7 641.0,176.8 641.5,175.9 642.1,176.3 642.7,176.4 643.3,175.9 643.9,176.3 644.4,175.9 645.0,175.5 645.6,175.5 646.2,174.1 646.8,171.3 647.3,169.0 647.9,167.4 648.5,168.6 649.1,170.8 649.7,174.2 650.2,175.4 650.8,175.9 651.4,176.7 652.0,177.2 652.6,177.0 653.1,176.6 653.7,176.8 654.3,176.9 654.9,177.3 655.5,177.3 656.0,177.6 656.6,177.8 657.2,177.3 657.8,177.3 658.4,177.3 659.0,177.4 659.5,177.0 660.1,178.0 660.7,176.7 661.3,176.3 661.9,177.3 662.4,177.7 663.0,177.8 663.6,177.7 664.2,178.0 664.8,179.4 665.3,179.2 665.9,179.5 666.5,181.0" stroke="#7570B3"/>
<polyline points="376.2,144.0 376.8,144.9 377.4,144.4 377.9,146.1 378.5,147.0 379.1,144.3 379.7,144.7 380.3,144.7 380.8,144.9 381.4,144.1 382.0,141.9 382.6,143.7 383.2,143.1 383.7,142.4 384.3,143.5 384.9,143.8 385.5,144.9 386.1,144.6 386.7,144.2 387.2,143.9 387.8,143.3 388.4,142.8 389.0,143.9 389.6,143.3 390.1,142.2 390.7,144.0 391.3,142.4 391.9,143.6 392.5,141.6 393.0,143.2 393.6,144.1 394.2,143.4 394.8,142.2 395.4,141.7 395.9,141.9 396.5,142.3 397.1,141.4 397.7,141.1 398.3,140.3 398.8,139.9 399.4,140.6 400.0,138.8 400.6,140.6 401.2,141.2 401.7,140.0 402.3,140.3 402.9,141.5 403.5,141.8 404.1,142.8 404.6,139.7 405.2,140.4 405.8,141.2 406.4,140.4 407.0,142.2 407.6,142.2 408.1,139.5 408.7,141.3 409.3,140.7 409.9,140.2 410.5,139.7 411.0,139.3 411.6,138.3 412.2,138.1 412.8,137.9 413.4,136.8 413.9,134.1 414.5,133.6 415.1,132.7 415.7,130.3 416.3,134.3 416.8,134.8 417.4,136.9 418.0,139.9 418.6,141.5 419.2,139.8 419.7,140.6 420.3,140.8 420.9,141.1 421.5,141.2 422.1,141.3 422.6,141.2 423.2,144.3 423.8,142.4 424.4,142.4 425.0,144.0 425.6,142.7 426.1,143.4 426.7,142.6 427.3,142.4 427.9,141.1 428.5,142.2 429.0,141.0 429.6,141.5 430.2,142.3 430.8,141.3 431.4,142.2 431.9,140.8 432.5,140.0 433.1,142.1 433.7,141.9 434.3,142.0 434.8,140.5 435.4,140.7 436.0,141.4 436.6,141.8 437.2,141.2 437.7,141.6 438.3,140.2 438.9,141.5 439.5,141.5 440.1,141.9 440.6,141.1 441.2,140.3 441.8,140.1 442.4,140.2 443.0,139.2 443.5,140.6 444.1,141.4 444.7,141.4 445.3,139.4 445.9,141.2 446.5,140.0 447.0,141.9 447.6,140.9 448.2,140.8 448.8,139.6 449.4,138.5 449.9,138.9 450.5,139.3 451.1,138.3 451.7,138.9 452.3,141.1 452.8,138.1 453.4,139.4 454.0,137.3 454.6,139.4 455.2,140.2 455.7,139.9 456.3,140.1 456.9,139.8 457.5,136.5 458.1,137.6 458.6,137.9 459.2,138.1 459.8,139.5 460.4,138.6 461.0,139.3 461.5,139.0 462.1,137.8 462.7,137.4 463.3,134.3 463.9,131.2 464.5,125.2 465.0,120.2 465.6,122.0 466.2,129.9 466.8,135.1 467.4,141.4 467.9,143.6 468.5,145.7 469.1,146.3 469.7,147.7 470.3,145.6 470.8,142.9 471.4,137.7 472.0,131.4 472.6,119.0 473.2,108.4 473.7,113.5 474.3,128.0 474.9,138.0 475.5,144.4 476.1,148.4 476.6,148.0 477.2,150.7 477.8,148.7 478.4,151.1 479.0,151.7 479.5,152.1 480.1,151.7 480.7,149.9 481.3,151.7 481.9,151.6 482.4,151.0 483.0,149.3 483.6,151.6 484.2,150.4 484.8,151.2 485.4,152.6 485.9,152.6 486.5,151.7 487.1,151.0 487.7,152.5 488.3,152.5 488.8,151.9 489.4,151.2 490.0,151.5 490.6,150.3 491.2,152.8 491.7,152.4 492.3,151.9 492.9,152.3 493.5,150.9 494.1,152.0 494.6,151.4 495.2,150.1 495.8,150.3 496.4,150.8 497.0,149.6 497.5,150.7 498.1,150.1 498.7,151.7 499.3,150.9 499.9,152.9 500.4,152.8 501.0,152.7 501.6,153.2 502.2,152.0 502.8,152.0 503.4,152.3 503.9,151.4 504.5,150.0 505.1,150.2 505.7,150.1 506.3,151.0 506.8,150.2 507.4,150.5 508.0,151.3 508.6,150.8 509.2,151.7 509.7,150.0 510.3,149.5 510.9,151.1 511.5,150.0 512.1,150.2 512.6,150.9 513.2,150.3 513.8,150.9 514.4,150.2 515.0,150.6 515.5,151.5 516.1,150.7 516.7,150.6 517.3,150.7 517.9,151.9 518.4,151.8 519.0,151.1 519.6,151.0 520.2,150.3 520.8,151.4 521.4,150.6 521.9,150.7 522.5,148.7 523.1,149.9 523.7,149.3 524.3,149.2 524.8,148.4 525.4,147.0 526.0,147.1 526.6,148.7 527.2,148.1 527.7,150.1 528.3,149.6 528.9,148.8 529.5,150.6 530.1,150.3 530.6,150.5 531.2,150.0 531.8,149.7 532.4,149.5 533.0,148.8 533.5,150.0 534.1,149.7 534.7,148.9 535.3,149.7 535.9,149.0 536.4,150.5 537.0,149.8 537.6,149.5 538.2,148.5 538.8,149.5 539.3,149.0 539.9,148.7 540.5,149.6 541.1,149.3 541.7,149.9 542.3,147.8 542.8,148.0 543.4,150.4 544.0,148.8 544.6,149.3 545.2,148.4 545.7,148.7 546.3,150.1 546.9,146.6 547.5,148.3 548.1,148.2 548.6,148.3 549.2,147.4 549.8,146.5 550.4,146.8 551.0,144.6 551.5,141.9 552.1,141.8 552.7,141.3 553.3,145.9 553.9,146.0 554.4,146.0 555.0,149.0 555.6,149.9 556.2,150.6 556.8,150.6 557.3,148.4 557.9,143.7 558.5,131.9 559.1,116.6 559.7,98.0 560.3,88.7 560.8,93.5 561.4,104.7 562.0,123.3 562.6,140.0 563.2,151.4 563.7,158.0 564.3,160.7 564.9,161.3 565.5,162.9 566.1,162.5 566.6,161.6 567.2,162.7 567.8,163.6 568.4,163.2 569.0,163.6 569.5,162.8 570.1,164.1 570.7,163.1 571.3,163.5 571.9,164.1 572.4,163.2 573.0,162.9 573.6,163.2 574.2,162.6 574.8,162.8 575.3,163.7 575.9,162.9 576.5,162.9 577.1,163.9 577.7,162.7 578.2,163.4 578.8,163.7 579.4,163.3 580.0,162.9 580.6,163.6 581.2,162.9 581.7,164.0 582.3,164.0 582.9,162.8 583.5,163.6 584.1,163.2 584.6,163.5 585.2,163.1 585.8,162.8 586.4,163.5 587.0,162.8 587.5,163.6 588.1,163.3 588.7,162.8 589.3,163.4 589.9,163.2 590.4,163.2 591.0,163.3 591.6,163.2 592.2,163.7 592.8,163.3 593.3,162.4 593.9,162.3 594.5,162.9 595.1,162.6 595.7,162.9 596.2,162.6 596.8,163.0 597.4,163.8 598.0,162.7 598.6,163.3 599.2,163.0 599.7,163.7 600.3,163.5 600.9,163.0 601.5,163.2 602.1,163.0 602.6,162.6 603.2,163.3 603.8,163.4 604.4,163.1 605.0,163.0 605.5,162.4 606.1,162.5 606.7,162.4 607.3,162.2 607.9,162.9 608.4,163.9 609.0,163.9 609.6,164.1 610.2,163.3 610.8,163.2 611.3,163.0 611.9,163.4 612.5,163.7 613.1,163.5 613.7,163.4 614.2,162.9 614.8,163.2 615.4,163.0 616.0,163.7 616.6,163.5 617.1,162.8 617.7,163.2 618.3,162.5 618.9,163.8 619.5,163.1 620.1,163.1 620.6,163.2 621.2,163.0 621.8,162.4 622.4,163.2 623.0,163.3 623.5,163.0 624.1,162.9 624.7,162.4 625.3,162.8 625.9,161.8 626.4,161.7 627.0,162.3 627.6,162.4 628.2,161.9 628.8,162.9 629.3,161.5 629.9,161.3 630.5,162.0 631.1,162.9 631.7,162.5 632.2,162.3 632.8,162.2 633.4,162.4 634.0,162.2 634.6,161.7 635.1,160.8 635.7,159.2 636.3,159.8 636.9,159.7 637.5,160.8 638.1,161.5 638.6,162.1 639.2,161.6 639.8,162.3 640.4,162.4 641.0,162.0 641.5,161.9 642.1,161.8 642.7,161.4 643.3,161.7 643.9,161.6 644.4,162.4 645.0,161.3 645.6,160.4 646.2,159.3 646.8,157.0 647.3,153.8 647.9,152.4 648.5,154.7 649.1,157.9 649.7,159.4 650.2,161.8 650.8,161.5 651.4,162.9 652.0,162.5 652.6,162.2 653.1,162.1 653.7,162.2 654.3,163.0 654.9,163.4 655.5,163.6 656.0,163.1 656.6,163.6 657.2,164.0 657.8,163.8 658.4,164.3 659.0,163.9 659.5,164.5 660.1,163.6 660.7,163.0 661.3,163.0 661.9,162.8 662.4,163.4 663.0,164.0 663.6,164.3 664.2,164.8 664.8,164.6 665.3,165.0 665.9,165.9 666.5,166.8" stroke="#E7298A"/>
<polyline points="376.2,131.1 376.8,129.1 377.4,129.6 377.9,128.7 378.5,130.6 379.1,129.9 379.7,131.6 380.3,130.7 380.8,130.7 381.4,130.7 382.0,129.3 382.6,131.3 383.2,128.9 383.7,130.0 384.3,129.7 384.9,128.0 385.5,128.5 386.1,128.6 386.7,128.6 387.2,128.3 387.8,127.9 388.4,127.2 389.0,128.5 389.6,130.5 390.1,127.8 390.7,129.4 391.3,126.9 391.9,127.5 392.5,129.5 393.0,129.5 393.6,130.3 394.2,129.2 394.8,127.6 395.4,127.8 395.9,127.3 396.5,128.4 397.1,127.7 397.7,128.1 398.3,126.7 398.8,127.3 399.4,126.7 400.0,126.1 400.6,125.9 401.2,127.3 401.7,127.0 402.3,128.2 402.9,127.2 403.5,125.1 404.1,125.1 404.6,126.2 405.2,127.8 405.8,127.2 406.4,125.8 407.0,126.5 407.6,125.3 408.1,125.5 408.7,125.8 409.3,125.8 409.9,125.2 410.5,124.7 411.0,124.9 411.6,124.7 412.2,124.4 412.8,122.8 413.4,121.4 413.9,121.1 414.5,120.1 415.1,118.7 415.7,117.5 416.3,119.0 416.8,122.9 417.4,122.2 418.0,124.7 418.6,127.0 419.2,126.2 419.7,127.1 420.3,128.6 420.9,128.1 421.5,125.4 422.1,127.3 422.6,126.9 423.2,126.3 423.8,128.7 424.4,127.4 425.0,127.7 425.6,127.0 426.1,128.6 426.7,128.6 427.3,128.3 427.9,129.4 428.5,127.4 429.0,126.2 429.6,127.1 430.2,127.4 430.8,127.9 431.4,125.2 431.9,128.1 432.5,129.4 433.1,128.8 433.7,127.6 434.3,129.7 434.8,128.1 435.4,128.7 436.0,127.4 436.6,126.0 437.2,124.9 437.7,127.0 438.3,127.8 438.9,126.8 439.5,125.4 440.1,126.5 440.6,125.0 441.2,127.3 441.8,126.2 442.4,127.0 443.0,126.2 443.5,126.7 444.1,126.7 444.7,124.4 445.3,125.6 445.9,125.2 446.5,124.9 447.0,125.6 447.6,127.2 448.2,125.6 448.8,126.7 449.4,125.6 449.9,125.2 450.5,124.5 451.1,125.2 451.7,125.0 452.3,126.0 452.8,126.6 453.4,125.6 454.0,125.9 454.6,124.8 455.2,126.0 455.7,124.2 456.3,123.8 456.9,124.7 457.5,123.8 458.1,124.4 458.6,123.9 459.2,123.8 459.8,123.9 460.4,124.9 461.0,125.2 461.5,124.8 462.1,125.0 462.7,122.3 463.3,119.5 463.9,115.7 464.5,110.0 465.0,104.9 465.6,107.2 466.2,115.3 466.8,119.1 467.4,123.6 467.9,126.8 468.5,128.4 469.1,129.6 469.7,131.0 470.3,130.7 470.8,127.3 471.4,124.3 472.0,118.0 472.6,105.4 473.2,94.6 473.7,100.3 474.3,114.4 474.9,125.2 475.5,132.1 476.1,133.6 476.6,134.8 477.2,136.2 477.8,136.0 478.4,137.9 479.0,137.1 479.5,136.8 480.1,137.6 480.7,137.3 481.3,137.2 481.9,137.3 482.4,135.7 483.0,135.9 483.6,135.0 484.2,135.2 484.8,136.8 485.4,137.0 485.9,137.3 486.5,137.8 487.1,137.7 487.7,139.2 488.3,137.8 488.8,138.7 489.4,137.5 490.0,136.9 490.6,138.9 491.2,137.6 491.7,138.5 492.3,137.3 492.9,137.3 493.5,138.9 494.1,138.7 494.6,138.3 495.2,138.1 495.8,137.9 496.4,138.1 497.0,138.2 497.5,138.4 498.1,138.0 498.7,137.9 499.3,138.6 499.9,136.4 500.4,138.4 501.0,137.6 501.6,137.2 502.2,136.3 502.8,135.9 503.4,137.5 503.9,137.0 504.5,137.3 505.1,137.0 505.7,138.2 506.3,136.6 506.8,136.4 507.4,135.6 508.0,136.9 508.6,137.5 509.2,136.0 509.7,136.5 510.3,136.5 510.9,136.9 511.5,137.3 512.1,138.0 512.6,136.8 513.2,136.8 513.8,136.4 514.4,137.4 515.0,136.5 515.5,136.8 516.1,137.2 516.7,136.8 517.3,136.7 517.9,136.9 518.4,137.0 519.0,136.9 519.6,136.3 520.2,136.0 520.8,136.7 521.4,135.4 521.9,135.5 522.5,135.2 523.1,135.8 523.7,134.4 524.3,133.6 524.8,132.3 525.4,132.8 526.0,133.9 526.6,135.1 527.2,135.3 527.7,136.5 528.3,134.9 528.9,133.3 529.5,133.8 530.1,134.4 530.6,135.5 531.2,134.9 531.8,135.7 532.4,134.6 533.0,135.5 533.5,134.9 534.1,135.3 534.7,135.0 535.3,134.4 535.9,136.2 536.4,134.2 537.0,134.8 537.6,134.4 538.2,135.9 538.8,135.3 539.3,134.5 539.9,133.1 540.5,135.2 541.1,135.5 541.7,133.3 542.3,134.1 542.8,134.8 543.4,134.9 544.0,134.4 544.6,134.8 545.2,134.0 545.7,134.7 546.3,133.3 546.9,134.9 547.5,134.4 548.1,133.0 548.6,133.0 549.2,133.6 549.8,133.4 550.4,132.1 551.0,132.1 551.5,128.8 552.1,126.9 552.7,128.1 553.3,129.3 553.9,130.2 554.4,134.1 555.0,133.8 555.6,134.3 556.2,136.3 556.8,134.5 557.3,133.1 557.9,129.7 558.5,119.9 559.1,100.6 559.7,82.1 560.3,73.8 560.8,79.4 561.4,91.4 562.0,109.9 562.6,125.8 563.2,137.6 563.7,144.1 564.3,145.4 564.9,147.7 565.5,147.6 566.1,148.4 566.6,148.1 567.2,148.8 567.8,149.1 568.4,149.0 569.0,149.9 569.5,149.1 570.1,149.9 570.7,148.9 571.3,149.4 571.9,149.2 572.4,148.6 573.0,149.5 573.6,149.0 574.2,148.6 574.8,148.9 575.3,149.3 575.9,149.0 576.5,149.4 577.1,149.6 577.7,149.4 578.2,149.3 578.8,149.2 579.4,149.4 580.0,149.8 580.6,148.9 581.2,149.1 581.7,149.6 582.3,149.3 582.9,150.3 583.5,150.0 584.1,150.1 584.6,149.4 585.2,149.4 585.8,149.9 586.4,149.0 587.0,149.7 587.5,149.6 588.1,149.4 588.7,148.9 589.3,149.3 589.9,149.5 590.4,149.4 591.0,148.5 591.6,149.3 592.2,149.3 592.8,148.6 593.3,149.2 593.9,148.8 594.5,148.5 595.1,149.7 595.7,148.7 596.2,148.6 596.8,148.6 597.4,149.8 598.0,149.3 598.6,148.9 599.2,148.3 599.7,148.6 600.3,148.6 600.9,148.9 601.5,148.2 602.1,149.2 602.6,149.4 603.2,148.6 603.8,148.2 604.4,148.4 605.0,148.0 605.5,148.7 606.1,149.1 606.7,149.8 607.3,148.6 607.9,148.5 608.4,149.1 609.0,148.1 609.6,149.2 610.2,148.7 610.8,149.2 611.3,148.9 611.9,149.0 612.5,147.3 613.1,148.1 613.7,147.5 614.2,148.3 614.8,148.2 615.4,148.6 616.0,149.4 616.6,149.0 617.1,148.7 617.7,148.5 618.3,148.1 618.9,148.9 619.5,148.6 620.1,148.3 620.6,148.6 621.2,147.9 621.8,147.7 622.4,147.6 623.0,147.5 623.5,147.6 624.1,148.6 624.7,148.1 625.3,148.3 625.9,148.7 626.4,148.3 627.0,147.9 627.6,147.8 628.2,147.9 628.8,148.5 629.3,147.8 629.9,147.7 630.5,148.3 631.1,148.4 631.7,148.4 632.2,148.4 632.8,148.9 633.4,148.0 634.0,147.8 634.6,148.2 635.1,146.5 635.7,145.2 636.3,145.6 636.9,145.5 637.5,146.5 638.1,147.2 638.6,147.1 639.2,147.8 639.8,147.1 640.4,148.0 641.0,148.4 641.5,148.0 642.1,148.9 642.7,148.6 643.3,149.1 643.9,148.1 644.4,147.1 645.0,146.5 645.6,146.7 646.2,144.7 646.8,142.7 647.3,139.6 647.9,138.7 648.5,139.7 649.1,143.6 649.7,146.3 650.2,147.2 650.8,148.6 651.4,148.3 652.0,148.5 652.6,147.9 653.1,147.4 653.7,148.0 654.3,147.4 654.9,149.2 655.5,148.3 656.0,148.6 656.6,149.7 657.2,149.3 657.8,150.1 658.4,149.3 659.0,150.2 659.5,149.8 660.1,148.7 660.7,149.6 661.3,148.5 661.9,148.7 662.4,148.9 663.0,149.7 663.6,150.3 664.2,150.5 664.8,151.0 665.3,151.5 665.9,152.1 666.5,151.9" stroke="#66A61E"/>
<polyline points="376.2,117.4 376.8,117.3 377.4,118.1 377.9,116.6 378.5,116.6 379.1,116.1 379.7,113.7 380.3,115.8 380.8,114.5 381.4,115.2 382.0,115.0 382.6,115.0 383.2,115.0 383.7,115.8 384.3,114.9 384.9,116.0 385.5,117.0 386.1,116.1 386.7,115.8 387.2,116.3 387.8,116.2 388.4,115.8 389.0,114.3 389.6,115.5 390.1,115.1 390.7,116.3 391.3,114.6 391.9,114.3 392.5,115.7 393.0,113.9 393.6,115.7 394.2,116.0 394.8,115.1 395.4,115.4 395.9,115.8 396.5,117.2 397.1,115.4 397.7,114.2 398.3,114.4 398.8,113.5 399.4,112.7 400.0,113.5 400.6,113.9 401.2,114.6 401.7,113.8 402.3,113.7 402.9,113.0 403.5,114.9 404.1,114.0 404.6,114.1 405.2,113.9 405.8,112.7 406.4,112.4 407.0,112.4 407.6,112.0 408.1,111.9 408.7,112.6 409.3,111.7 409.9,112.1 410.5,111.7 411.0,110.3 411.6,110.5 412.2,111.5 412.8,112.0 413.4,109.0 413.9,109.0 414.5,106.5 415.1,103.9 415.7,104.5 416.3,106.2 416.8,107.3 417.4,110.8 418.0,108.4 418.6,110.7 419.2,111.1 419.7,111.5 420.3,112.3 420.9,113.4 421.5,114.2 422.1,114.3 422.6,114.9 423.2,114.3 423.8,113.6 424.4,113.8 425.0,115.4 425.6,114.0 426.1,114.5 426.7,115.5 427.3,115.9 427.9,115.2 428.5,115.5 429.0,115.6 429.6,115.5 430.2,114.5 430.8,113.2 431.4,113.3 431.9,113.1 432.5,114.0 433.1,114.7 433.7,113.9 434.3,114.3 434.8,116.0 435.4,112.4 436.0,114.4 436.6,113.3 437.2,113.0 437.7,113.5 438.3,113.9 438.9,115.8 439.5,113.9 440.1,114.0 440.6,111.5 441.2,114.1 441.8,113.4 442.4,113.9 443.0,112.1 443.5,113.3 444.1,112.9 444.7,112.6 445.3,112.6 445.9,112.6 446.5,112.7 447.0,111.7 447.6,112.9 448.2,111.2 448.8,111.5 449.4,111.0 449.9,110.1 450.5,113.9 451.1,113.8 451.7,111.7 452.3,111.9 452.8,111.9 453.4,112.9 454.0,112.4 454.6,111.0 455.2,111.6 455.7,110.3 456.3,110.8 456.9,111.3 457.5,110.3 458.1,109.9 458.6,110.1 459.2,112.6 459.8,111.1 460.4,109.4 461.0,110.7 461.5,108.6 462.1,110.2 462.7,109.4 463.3,109.0 463.9,104.8 464.5,96.8 465.0,91.3 465.6,93.6 466.2,98.7 466.8,105.1 467.4,111.4 467.9,111.9 468.5,114.1 469.1,116.6 469.7,114.3 470.3,115.8 470.8,111.5 471.4,108.2 472.0,102.8 472.6,90.9 473.2,81.0 473.7,86.5 474.3,101.6 474.9,112.9 475.5,116.2 476.1,119.1 476.6,121.0 477.2,120.4 477.8,121.8 478.4,121.2 479.0,123.7 479.5,123.9 480.1,123.8 480.7,123.8 481.3,124.5 481.9,122.6 482.4,123.7 483.0,122.8 483.6,122.7 484.2,124.3 484.8,124.0 485.4,124.0 485.9,124.2 486.5,123.3 487.1,124.8 487.7,124.0 488.3,124.8 488.8,124.2 489.4,124.4 490.0,123.0 490.6,124.3 491.2,124.3 491.7,123.6 492.3,123.1 492.9,122.9 493.5,123.6 494.1,124.5 494.6,124.4 495.2,123.9 495.8,125.3 496.4,125.2 497.0,124.7 497.5,124.2 498.1,124.4 498.7,124.3 499.3,124.3 499.9,125.2 500.4,123.8 501.0,124.8 501.6,123.9 502.2,124.1 502.8,122.8 503.4,124.0 503.9,124.1 504.5,122.6 505.1,124.9 505.7,122.5 506.3,122.8 506.8,122.8 507.4,123.0 508.0,123.2 508.6,121.7 509.2,123.0 509.7,122.2 510.3,122.3 510.9,123.3 511.5,122.6 512.1,123.9 512.6,123.4 513.2,122.8 513.8,122.3 514.4,121.2 515.0,123.6 515.5,123.6 516.1,122.7 516.7,123.1 517.3,122.2 517.9,124.0 518.4,123.0 519.0,122.7 519.6,122.3 520.2,122.7 520.8,122.7 521.4,122.6 521.9,122.4 522.5,122.2 523.1,123.9 523.7,124.2 524.3,120.4 524.8,120.4 525.4,119.3 526.0,119.6 526.6,121.3 527.2,119.1 527.7,122.2 528.3,120.5 528.9,122.1 529.5,121.6 530.1,121.2 530.6,121.4 531.2,120.5 531.8,122.4 532.4,120.1 533.0,120.4 533.5,121.7 534.1,121.8 534.7,122.2 535.3,120.7 535.9,119.8 536.4,120.4 537.0,120.6 537.6,121.0 538.2,121.8 538.8,121.4 539.3,121.3 539.9,122.3 540.5,121.6 541.1,122.4 541.7,122.4 542.3,121.2 542.8,121.8 543.4,120.6 544.0,121.8 544.6,120.3 545.2,120.0 545.7,119.2 546.3,119.9 546.9,120.5 547.5,119.2 548.1,118.8 548.6,118.8 549.2,119.6 549.8,119.4 550.4,118.1 551.0,117.0 551.5,115.7 552.1,115.1 552.7,114.2 553.3,115.1 553.9,117.7 554.4,120.9 555.0,120.8 555.6,121.8 556.2,122.4 556.8,120.3 557.3,119.4 557.9,112.6 558.5,99.9 559.1,81.0 559.7,59.1 560.3,49.8 560.8,54.9 561.4,68.4 562.0,90.0 562.6,110.1 563.2,123.8 563.7,129.3 564.3,132.3 564.9,133.0 565.5,133.9 566.1,134.6 566.6,134.7 567.2,134.5 567.8,134.0 568.4,134.9 569.0,135.2 569.5,135.5 570.1,135.9 570.7,135.9 571.3,135.6 571.9,135.8 572.4,135.1 573.0,135.1 573.6,135.9 574.2,135.5 574.8,135.6 575.3,135.5 575.9,135.4 576.5,135.2 577.1,135.7 577.7,135.5 578.2,136.1 578.8,136.4 579.4,136.1 580.0,136.8 580.6,136.0 581.2,136.4 581.7,135.5 582.3,136.4 582.9,135.7 583.5,135.8 584.1,135.5 584.6,135.9 585.2,135.9 585.8,135.5 586.4,136.3 587.0,135.7 587.5,135.1 588.1,135.6 588.7,135.6 589.3,135.7 589.9,135.4 590.4,134.8 591.0,136.2 591.6,136.0 592.2,135.6 592.8,135.8 593.3,135.7 593.9,135.6 594.5,135.5 595.1,136.1 595.7,135.4 596.2,135.5 596.8,135.2 597.4,135.8 598.0,135.2 598.6,135.2 599.2,134.9 599.7,134.6 600.3,135.4 600.9,135.3 601.5,135.1 602.1,135.7 602.6,135.9 603.2,136.1 603.8,135.8 604.4,135.8 605.0,136.3 605.5,135.7 606.1,135.9 606.7,135.7 607.3,134.7 607.9,135.2 608.4,135.2 609.0,134.8 609.6,135.5 610.2,134.9 610.8,135.8 611.3,135.9 611.9,135.5 612.5,135.7 613.1,135.4 613.7,135.1 614.2,135.1 614.8,135.2 615.4,135.6 616.0,134.6 616.6,135.0 617.1,136.2 617.7,135.6 618.3,135.2 618.9,134.9 619.5,134.4 620.1,135.8 620.6,135.6 621.2,134.8 621.8,134.4 622.4,134.8 623.0,134.6 623.5,135.3 624.1,134.7 624.7,134.8 625.3,134.1 625.9,133.9 626.4,133.5 627.0,134.5 627.6,133.8 628.2,134.7 628.8,134.2 629.3,134.4 629.9,133.9 630.5,135.1 631.1,135.1 631.7,135.5 632.2,134.8 632.8,134.8 633.4,134.6 634.0,134.3 634.6,133.9 635.1,133.0 635.7,132.3 636.3,131.9 636.9,132.5 637.5,133.3 638.1,133.8 638.6,133.9 639.2,134.0 639.8,134.5 640.4,134.0 641.0,134.0 641.5,134.4 642.1,134.2 642.7,134.4 643.3,134.7 643.9,134.6 644.4,134.6 645.0,134.3 645.6,133.2 646.2,131.3 646.8,129.3 647.3,126.3 647.9,124.8 648.5,126.2 649.1,129.3 649.7,131.9 650.2,132.0 650.8,133.2 651.4,133.8 652.0,134.2 652.6,135.0 653.1,134.5 653.7,133.9 654.3,135.0 654.9,135.0 655.5,135.9 656.0,136.2 656.6,135.8 657.2,135.6 657.8,136.3 658.4,136.6 659.0,135.8 659.5,135.0 660.1,135.3 660.7,135.7 661.3,134.9 661.9,135.5 662.4,135.6 663.0,136.0 663.6,137.3 664.2,137.0 664.8,137.9 665.3,137.5 665.9,137.8 666.5,138.3" stroke="#E6AB02"/>
<polyline points="376.2,102.5 376.8,101.7 377.4,103.4 377.9,98.4 378.5,99.8 379.1,100.0 379.7,102.1 380.3,102.8 380.8,100.8 381.4,102.0 382.0,102.7 382.6,102.2 383.2,101.3 383.7,99.9 384.3,99.4 384.9,98.8 385.5,98.7 386.1,100.3 386.7,99.8 387.2,100.1 387.8,100.1 388.4,101.3 389.0,102.2 389.6,100.2 390.1,102.1 390.7,100.8 391.3,97.8 391.9,100.1 392.5,100.1 393.0,100.9 393.6,99.3 394.2,97.2 394.8,97.8 395.4,98.1 395.9,99.9 396.5,98.7 397.1,98.5 397.7,99.8 398.3,99.8 398.8,97.4 399.4,98.6 400.0,99.6 400.6,99.4 401.2,100.1 401.7,100.0 402.3,99.2 402.9,97.6 403.5,99.8 404.1,98.8 404.6,98.4 405.2,97.9 405.8,98.4 406.4,97.3 407.0,97.6 407.6,98.5 408.1,97.6 408.7,95.6 409.3,96.3 409.9,95.7 410.5,95.3 411.0,94.9 411.6,94.7 412.2,95.5 412.8,96.0 413.4,93.9 413.9,94.0 414.5,90.3 415.1,89.3 415.7,90.6 416.3,90.9 416.8,93.2 417.4,95.3 418.0,95.9 418.6,99.2 419.2,97.5 419.7,98.7 420.3,99.2 420.9,100.6 421.5,101.4 422.1,98.0 422.6,98.9 423.2,98.4 423.8,99.4 424.4,99.9 425.0,100.3 425.6,99.5 426.1,100.4 426.7,100.6 427.3,100.2 427.9,99.1 428.5,99.8 429.0,100.5 429.6,101.4 430.2,100.2 430.8,99.9 431.4,97.4 431.9,95.9 432.5,98.6 433.1,99.1 433.7,98.6 434.3,99.3 434.8,100.0 435.4,99.8 436.0,100.2 436.6,99.7 437.2,98.5 437.7,98.7 438.3,99.8 438.9,99.9 439.5,98.0 440.1,98.8 440.6,99.5 441.2,98.4 441.8,99.3 442.4,100.1 443.0,98.8 443.5,98.3 444.1,97.2 444.7,96.6 445.3,96.9 445.9,97.5 446.5,96.4 447.0,96.7 447.6,98.7 448.2,96.5 448.8,98.3 449.4,97.2 449.9,98.4 450.5,98.6 451.1,98.8 451.7,96.9 452.3,97.1 452.8,97.2 453.4,96.7 454.0,94.3 454.6,97.5 455.2,96.4 455.7,97.2 456.3,95.2 456.9,95.5 457.5,94.5 458.1,97.0 458.6,96.2 459.2,95.9 459.8,96.8 460.4,94.3 461.0,96.0 461.5,95.8 462.1,94.5 462.7,94.5 463.3,91.7 463.9,89.6 464.5,84.1 465.0,77.6 465.6,81.3 466.2,85.9 466.8,93.0 467.4,92.3 467.9,95.1 468.5,96.7 469.1,95.3 469.7,96.1 470.3,96.7 470.8,95.6 471.4,92.2 472.0,85.7 472.6,75.0 473.2,66.0 473.7,71.5 474.3,86.6 474.9,96.7 475.5,102.6 476.1,105.2 476.6,104.9 477.2,105.7 477.8,108.1 478.4,105.1 479.0,106.0 479.5,107.1 480.1,107.1 480.7,107.7 481.3,109.5 481.9,107.6 482.4,109.2 483.0,107.5 483.6,107.6 484.2,108.6 484.8,108.8 485.4,110.1 485.9,108.8 486.5,108.9 487.1,109.3 487.7,108.8 488.3,108.4 488.8,108.7 489.4,109.5 490.0,108.5 490.6,107.4 491.2,107.9 491.7,107.4 492.3,109.7 492.9,107.3 493.5,108.7 494.1,107.9 494.6,109.2 495.2,109.8 495.8,108.4 496.4,109.3 497.0,109.3 497.5,108.4 498.1,110.6 498.7,110.0 499.3,109.5 499.9,109.4 500.4,109.1 501.0,108.3 501.6,108.8 502.2,107.2 502.8,109.4 503.4,107.4 503.9,109.3 504.5,108.4 505.1,109.1 505.7,109.6 506.3,108.8 506.8,109.5 507.4,107.2 508.0,108.8 508.6,109.5 509.2,108.4 509.7,107.9 510.3,107.7 510.9,106.2 511.5,106.8 512.1,108.2 512.6,109.6 513.2,109.1 513.8,108.4 514.4,108.1 515.0,108.5 515.5,109.7 516.1,108.4 516.7,108.4 517.3,108.5 517.9,108.7 518.4,108.5 519.0,107.2 519.6,106.9 520.2,108.0 520.8,108.6 521.4,109.4 521.9,108.3 522.5,107.0 523.1,107.1 523.7,105.7 524.3,106.0 524.8,106.2 525.4,105.2 526.0,107.1 526.6,106.1 527.2,106.5 527.7,106.7 528.3,106.9 528.9,106.8 529.5,106.7 530.1,106.9 530.6,106.0 531.2,106.5 531.8,106.6 532.4,106.0 533.0,105.9 533.5,107.4 534.1,107.8 534.7,106.8 535.3,106.3 535.9,105.6 536.4,106.7 537.0,108.0 537.6,105.8 538.2,106.5 538.8,106.5 539.3,106.2 539.9,106.2 540.5,107.1 541.1,106.5 541.7,105.3 542.3,106.6 542.8,106.8 543.4,104.6 544.0,104.1 544.6,104.2 545.2,104.8 545.7,104.6 546.3,104.7 546.9,104.4 547.5,105.8 548.1,105.0 548.6,104.8 549.2,104.3 549.8,104.1 550.4,101.8 551.0,101.0 551.5,99.5 552.1,98.4 552.7,98.6 553.3,100.6 553.9,102.3 554.4,105.1 555.0,106.9 555.6,107.8 556.2,108.0 556.8,107.4 557.3,105.6 557.9,100.9 558.5,89.2 559.1,72.2 559.7,54.5 560.3,46.1 560.8,51.3 561.4,63.8 562.0,81.5 562.6,97.7 563.2,110.2 563.7,115.8 564.3,118.3 564.9,119.1 565.5,119.4 566.1,119.9 566.6,119.5 567.2,119.8 567.8,120.4 568.4,121.1 569.0,120.7 569.5,120.9 570.1,120.1 570.7,120.0 571.3,120.4 571.9,120.6 572.4,120.6 573.0,120.5 573.6,120.9 574.2,120.4 574.8,120.1 575.3,120.3 575.9,120.4 576.5,121.2 577.1,121.6 577.7,120.4 578.2,121.0 578.8,120.5 579.4,120.7 580.0,120.6 580.6,120.2 581.2,120.7 581.7,120.3 582.3,120.5 582.9,120.2 583.5,120.3 584.1,120.9 584.6,120.7 585.2,121.2 585.8,120.6 586.4,120.4 587.0,121.1 587.5,120.7 588.1,120.8 588.7,120.6 589.3,121.0 589.9,120.8 590.4,120.9 591.0,120.2 591.6,121.0 592.2,121.4 592.8,121.1 593.3,121.5 593.9,120.9 594.5,120.6 595.1,120.7 595.7,119.8 596.2,119.6 596.8,120.2 597.4,119.6 598.0,121.0 598.6,120.4 599.2,121.1 599.7,120.7 600.3,120.4 600.9,120.3 601.5,120.5 602.1,120.6 602.6,120.2 603.2,119.9 603.8,120.6 604.4,120.8 605.0,120.8 605.5,120.1 606.1,120.3 606.7,120.5 607.3,120.8 607.9,120.0 608.4,119.7 609.0,120.6 609.6,119.4 610.2,120.7 610.8,120.3 611.3,120.8 611.9,119.5 612.5,118.9 613.1,120.2 613.7,119.4 614.2,119.5 614.8,119.5 615.4,119.5 616.0,119.3 616.6,120.2 617.1,119.7 617.7,120.4 618.3,120.2 618.9,120.3 619.5,119.8 620.1,119.9 620.6,119.5 621.2,119.4 621.8,119.2 622.4,118.7 623.0,119.8 623.5,119.3 624.1,120.8 624.7,119.9 625.3,119.2 625.9,119.7 626.4,119.9 627.0,119.7 627.6,119.1 628.2,119.5 628.8,119.4 629.3,119.2 629.9,119.3 630.5,119.5 631.1,119.4 631.7,119.6 632.2,119.7 632.8,119.7 633.4,118.8 634.0,118.9 634.6,118.8 635.1,118.2 635.7,117.1 636.3,116.9 636.9,117.5 637.5,118.5 638.1,119.3 638.6,119.1 639.2,118.5 639.8,119.0 640.4,119.1 641.0,119.2 641.5,119.7 642.1,118.8 642.7,119.2 643.3,119.7 643.9,118.7 644.4,118.9 645.0,118.5 645.6,118.1 646.2,116.7 646.8,113.9 647.3,112.5 647.9,110.3 648.5,112.1 649.1,115.2 649.7,117.7 650.2,119.3 650.8,119.7 651.4,119.7 652.0,119.4 652.6,119.6 653.1,118.2 653.7,118.8 654.3,119.4 654.9,120.0 655.5,121.0 656.0,120.8 656.6,120.8 657.2,120.9 657.8,121.7 658.4,121.8 659.0,121.3 659.5,121.3 660.1,120.7 660.7,120.7 661.3,119.4 661.9,119.3 662.4,120.4 663.0,120.9 663.6,121.3 664.2,122.1 664.8,122.7 665.3,123.0 665.9,123.3 666.5,123.4" stroke="#A6761D"/>
</g>
<line x1="74.45" y1="48.5" x2="74.45" y2="210.2" class="vl"/>
<text transform="translate(77.85,44.2) rotate(-90)" class="ann">Zr3s</text>
<line x1="94.55" y1="48.5" x2="94.55" y2="210.2" class="vl"/>
<text transform="translate(97.95,44.2) rotate(-90)" class="ann">N1s</text>
<line x1="132.10" y1="48.6" x2="132.10" y2="210.2" class="vl"/>
<text transform="translate(134.10,44.2) rotate(-90)" class="ann">Zr3p<tspan class="sub" dy="1.8">3/2</tspan></text>
<line x1="160.60" y1="48.5" x2="160.60" y2="210.2" class="vl"/>
<text transform="translate(164.00,44.2) rotate(-90)" class="ann">C1s</text>
<line x1="218.80" y1="35.2" x2="218.80" y2="210.2" class="vl"/>
<text transform="translate(222.20,31.5) rotate(-90)" class="ann">Zr3d</text>
<line x1="294.45" y1="58.2" x2="294.45" y2="210.2" class="vl"/>
<text transform="translate(297.85,53.0) rotate(-90)" class="ann">Zr4s</text>
<line x1="307.00" y1="48.5" x2="307.00" y2="210.2" class="vl"/>
<text transform="translate(310.40,44.2) rotate(-90)" class="ann">Zr4p</text>
<line x1="416.40" y1="44.2" x2="416.40" y2="210.2" class="vl"/>
<text transform="translate(419.80,43.0) rotate(-90)" class="ann">Zr3s</text>
<line x1="474.20" y1="44.2" x2="474.20" y2="210.2" class="vl"/>
<text transform="translate(476.20,43.0) rotate(-90)" class="ann">Zr3p<tspan class="sub" dy="1.8">3/2</tspan></text>
<line x1="502.55" y1="44.2" x2="502.55" y2="210.2" class="vl"/>
<text transform="translate(505.95,43.0) rotate(-90)" class="ann">C1s</text>
<line x1="560.85" y1="31.8" x2="560.85" y2="210.2" class="vl"/>
<text transform="translate(564.25,31.6) rotate(-90)" class="ann">Zr3d</text>
<line x1="636.35" y1="50.0" x2="636.35" y2="210.2" class="vl"/>
<text transform="translate(639.75,49.8) rotate(-90)" class="ann">Zr4s</text>
<line x1="649.00" y1="42.3" x2="649.00" y2="210.2" class="vl"/>
<text transform="translate(652.40,41.8) rotate(-90)" class="ann">Zr4p</text>
<line x1="34.00" y1="220.3" x2="34.00" y2="222.6" class="tick"/>
<line x1="92.06" y1="220.3" x2="92.06" y2="222.6" class="tick"/>
<line x1="150.12" y1="220.3" x2="150.12" y2="222.6" class="tick"/>
<line x1="208.18" y1="220.3" x2="208.18" y2="222.6" class="tick"/>
<line x1="266.24" y1="220.3" x2="266.24" y2="222.6" class="tick"/>
<line x1="324.30" y1="220.3" x2="324.30" y2="222.6" class="tick"/>
<line x1="17.2" y1="35.50" x2="19.5" y2="35.50" class="tick"/>
<line x1="17.2" y1="79.25" x2="19.5" y2="79.25" class="tick"/>
<line x1="17.2" y1="123.00" x2="19.5" y2="123.00" class="tick"/>
<line x1="17.2" y1="166.75" x2="19.5" y2="166.75" class="tick"/>
<line x1="17.2" y1="210.50" x2="19.5" y2="210.50" class="tick"/>
<rect x="19.50" y="4.10" width="319.05" height="216.20" class="border"/>
<text x="34.00" y="230.6" class="tl">500</text>
<text x="92.06" y="230.6" class="tl">400</text>
<text x="150.12" y="230.6" class="tl">300</text>
<text x="208.18" y="230.6" class="tl">200</text>
<text x="266.24" y="230.6" class="tl">100</text>
<text x="324.30" y="230.6" class="tl">0</text>
<line x1="376.20" y1="220.3" x2="376.20" y2="222.6" class="tick"/>
<line x1="434.26" y1="220.3" x2="434.26" y2="222.6" class="tick"/>
<line x1="492.32" y1="220.3" x2="492.32" y2="222.6" class="tick"/>
<line x1="550.38" y1="220.3" x2="550.38" y2="222.6" class="tick"/>
<line x1="608.44" y1="220.3" x2="608.44" y2="222.6" class="tick"/>
<line x1="666.50" y1="220.3" x2="666.50" y2="222.6" class="tick"/>
<line x1="359.3" y1="67.50" x2="361.6" y2="67.50" class="tick"/>
<line x1="359.3" y1="139.00" x2="361.6" y2="139.00" class="tick"/>
<line x1="359.3" y1="210.50" x2="361.6" y2="210.50" class="tick"/>
<rect x="361.65" y="4.10" width="318.90" height="216.20" class="border"/>
<text x="376.20" y="230.6" class="tl">500</text>
<text x="434.26" y="230.6" class="tl">400</text>
<text x="492.32" y="230.6" class="tl">300</text>
<text x="550.38" y="230.6" class="tl">200</text>
<text x="608.44" y="230.6" class="tl">100</text>
<text x="666.50" y="230.6" class="tl">0</text>
<text x="179.0" y="243.9" class="at" text-anchor="middle">Binding Energy (eV)</text>
<text x="521.1" y="243.9" class="at" text-anchor="middle">Binding Energy (eV)</text>
<text transform="translate(13.6,112.0) rotate(-90)" class="at" text-anchor="middle">Intensity (au)</text>
<text transform="translate(355.8,112.0) rotate(-90)" class="at" text-anchor="middle">Intensity (au)</text>
<text x="6.5" y="13.0" class="tag">a)</text>
<text x="348.6" y="13.0" class="tag">b)</text>
<text x="149.6" y="263.3" class="lt">Time</text>
<line x1="183.4" y1="259" x2="193.0" y2="259" stroke="#1B9E77" class="key"/>
<text x="199.6" y="262.6" class="ll">0 min</text>
<line x1="230.9" y1="259" x2="240.5" y2="259" stroke="#D95F02" class="key"/>
<text x="247.4" y="262.6" class="ll">5 min</text>
<line x1="278.1" y1="259" x2="287.7" y2="259" stroke="#7570B3" class="key"/>
<text x="295.3" y="262.6" class="ll">10 min</text>
<line x1="331.1" y1="259" x2="340.7" y2="259" stroke="#E7298A" class="key"/>
<text x="348.3" y="262.6" class="ll">15 min</text>
<line x1="383.6" y1="259" x2="393.2" y2="259" stroke="#66A61E" class="key"/>
<text x="400.6" y="262.6" class="ll">20 min</text>
<line x1="436.7" y1="259" x2="446.3" y2="259" stroke="#E6AB02" class="key"/>
<text x="453.2" y="262.6" class="ll">25 min</text>
<line x1="489.7" y1="259" x2="499.3" y2="259" stroke="#A6761D" class="key"/>
<text x="506.2" y="262.6" class="ll">30 min</text>
</svg></body></html>
